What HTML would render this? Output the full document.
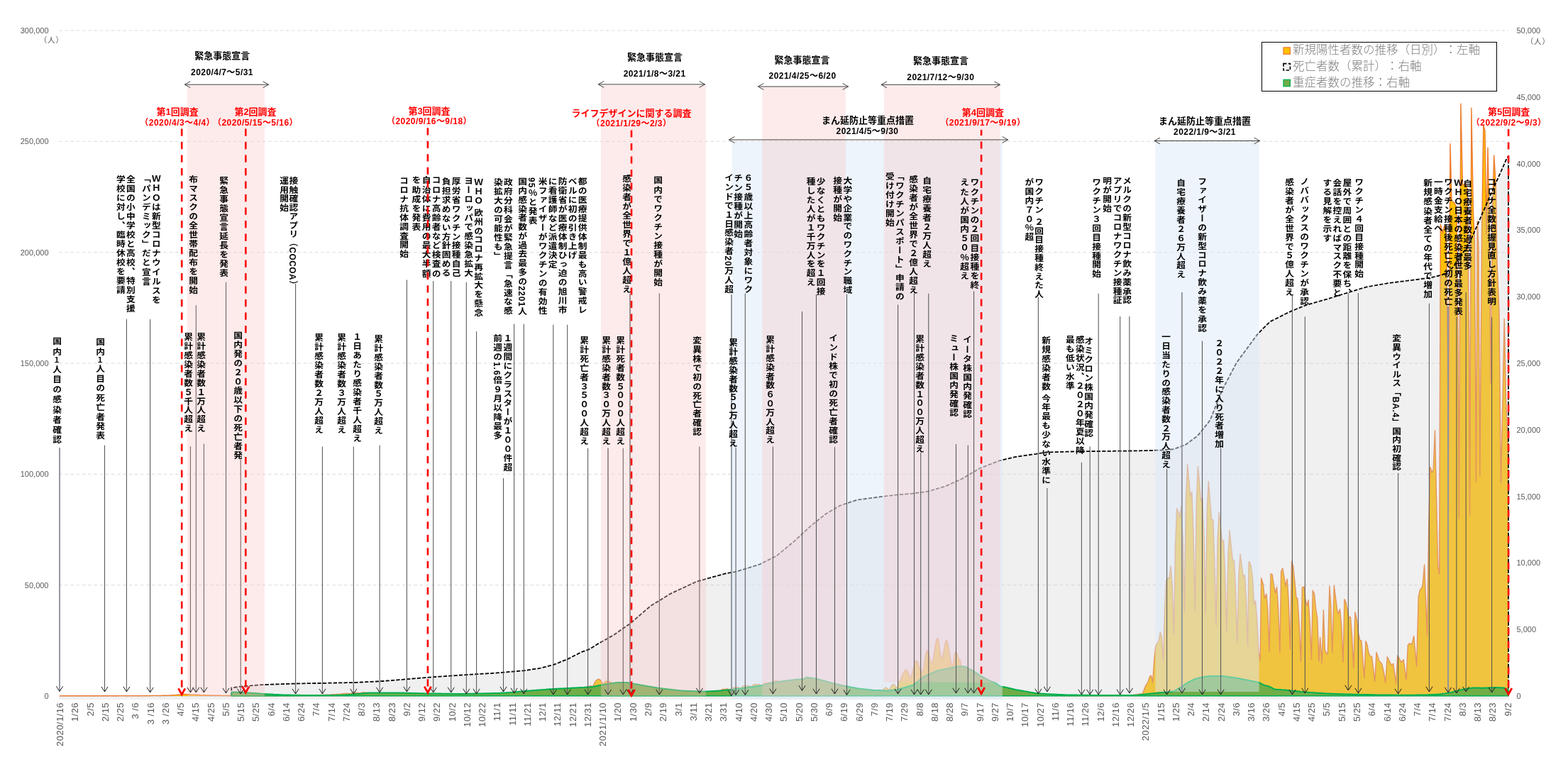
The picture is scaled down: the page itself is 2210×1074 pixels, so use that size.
<!DOCTYPE html><html lang="ja"><head><meta charset="utf-8"><title>新型コロナウイルス感染症の推移と調査時期</title>
<style>
html,body{margin:0;padding:0;background:#fff}
#c{position:relative;width:2210px;height:1074px;overflow:hidden;background:#fff;font-family:"Liberation Sans","Noto Sans CJK JP",sans-serif}
svg{position:absolute;left:0;top:0}
.v{position:absolute;transform:scaleX(1.07);writing-mode:vertical-rl;font-weight:bold;font-size:11.9px;white-space:pre;color:#000;font-family:"Liberation Sans","Noto Sans CJK JP",sans-serif}
.h{position:absolute;font-weight:bold;font-size:13px;line-height:16px;height:16px;white-space:nowrap;color:#000;text-align:center;width:300px;margin-left:-150px;font-family:"Liberation Sans","Noto Sans CJK JP",sans-serif}
.r{color:#f00}
.d{font-size:12px;letter-spacing:0.45px}
.ax{font:11px "Liberation Sans","Noto Sans CJK JP",sans-serif;fill:#595959}
.xl{font:13px "Liberation Sans","Noto Sans CJK JP",sans-serif;fill:#595959;letter-spacing:0.45px}
.un{font:10.5px "Liberation Sans","Noto Sans CJK JP",sans-serif;fill:#595959;letter-spacing:0.9px}
.lg{position:absolute;font:300 16.5px/20px "Liberation Sans","Noto Sans CJK JP",sans-serif;color:#7f7f7f;white-space:nowrap;text-spacing-trim:space-all}
</style></head><body><div id="c">
<svg width="2210" height="1074" viewBox="0 0 2210 1074">
<line x1="83" x2="2126" y1="824.7" y2="824.7" stroke="#d9d9d9" stroke-width="1" stroke-dasharray="4.6 3.6"/>
<line x1="83" x2="2126" y1="668.3" y2="668.3" stroke="#d9d9d9" stroke-width="1" stroke-dasharray="4.6 3.6"/>
<line x1="83" x2="2126" y1="512" y2="512" stroke="#d9d9d9" stroke-width="1" stroke-dasharray="4.6 3.6"/>
<line x1="83" x2="2126" y1="355.7" y2="355.7" stroke="#d9d9d9" stroke-width="1" stroke-dasharray="4.6 3.6"/>
<line x1="83" x2="2126" y1="199.3" y2="199.3" stroke="#d9d9d9" stroke-width="1" stroke-dasharray="4.6 3.6"/>
<line x1="83" x2="2126" y1="43" y2="43" stroke="#d9d9d9" stroke-width="1" stroke-dasharray="4.6 3.6"/>
<path d="M84 981.5V986M86.1 981.5V986M88.3 981.5V986M90.4 981.5V986M92.5 981.5V986M94.6 981.5V986M96.8 981.5V986M98.9 981.5V986M101 981.5V986M103.1 981.5V986M105.3 981.5V986M107.4 981.5V986M109.5 981.5V986M111.7 981.5V986M113.8 981.5V986M115.9 981.5V986M118 981.5V986M120.2 981.5V986M122.3 981.5V986M124.4 981.5V986M126.5 981.5V986M128.7 981.5V986M130.8 981.5V986M132.9 981.5V986M135.1 981.5V986M137.2 981.5V986M139.3 981.5V986M141.4 981.5V986M143.6 981.5V986M145.7 981.5V986M147.8 981.5V986M149.9 981.5V986M152.1 981.5V986M154.2 981.5V986M156.3 981.5V986M158.4 981.5V986M160.6 981.5V986M162.7 981.5V986M164.8 981.5V986M167 981.5V986M169.1 981.5V986M171.2 981.5V986M173.3 981.5V986M175.5 981.5V986M177.6 981.5V986M179.7 981.5V986M181.8 981.5V986M184 981.5V986M186.1 981.5V986M188.2 981.5V986M190.4 981.5V986M192.5 981.5V986M194.6 981.5V986M196.7 981.5V986M198.9 981.5V986M201 981.5V986M203.1 981.5V986M205.2 981.5V986M207.4 981.5V986M209.5 981.5V986M211.6 981.5V986M213.8 981.5V986M215.9 981.5V986M218 981.5V986M220.1 981.5V986M222.3 981.5V986M224.4 981.5V986M226.5 981.5V986M228.6 981.5V986M230.8 981.5V986M232.9 981.5V986M235 981.5V986M237.1 981.5V986M239.3 981.5V986M241.4 981.5V986M243.5 981.5V986M245.7 981.5V986M247.8 981.5V986M249.9 981.5V986M252 981.5V986M254.2 981.5V986M256.3 981.5V986M258.4 981.5V986M260.5 981.5V986M262.7 981.5V986M264.8 981.5V986M266.9 981.5V986M269.1 981.5V986M271.2 981.5V986M273.3 981.5V986M275.4 981.5V986M277.6 981.5V986M279.7 981.5V986M281.8 981.5V986M283.9 981.5V986M286.1 981.5V986M288.2 981.5V986M290.3 981.5V986M292.5 981.5V986M294.6 981.5V986M296.7 981.5V986M298.8 981.5V986M301 981.5V986M303.1 981.5V986M305.2 981.5V986M307.3 981.5V986M309.5 981.5V986M311.6 981.5V986M313.7 981.5V986M315.9 981.5V986M318 981.5V986M320.1 981.5V986M322.2 981.5V986M324.4 981.5V986M326.5 981.5V986M328.6 981.5V986M330.7 981.5V986M332.9 981.5V986M335 981.5V986M337.1 981.5V986M339.2 981.5V986M341.4 981.5V986M343.5 981.5V986M345.6 981.5V986M347.8 981.5V986M349.9 981.5V986M352 981.5V986M354.1 981.5V986M356.3 981.5V986M358.4 981.5V986M360.5 981.5V986M362.6 981.5V986M364.8 981.5V986M366.9 981.5V986M369 981.5V986M371.2 981.5V986M373.3 981.5V986M375.4 981.5V986M377.5 981.5V986M379.7 981.5V986M381.8 981.5V986M383.9 981.5V986M386 981.5V986M388.2 981.5V986M390.3 981.5V986M392.4 981.5V986M394.6 981.5V986M396.7 981.5V986M398.8 981.5V986M400.9 981.5V986M403.1 981.5V986M405.2 981.5V986M407.3 981.5V986M409.4 981.5V986M411.6 981.5V986M413.7 981.5V986M415.8 981.5V986M418 981.5V986M420.1 981.5V986M422.2 981.5V986M424.3 981.5V986M426.5 981.5V986M428.6 981.5V986M430.7 981.5V986M432.8 981.5V986M435 981.5V986M437.1 981.5V986M439.2 981.5V986M441.3 981.5V986M443.5 981.5V986M445.6 981.5V986M447.7 981.5V986M449.9 981.5V986M452 981.5V986M454.1 981.5V986M456.2 981.5V986M458.4 981.5V986M460.5 981.5V986M462.6 981.5V986M464.7 981.5V986M466.9 981.5V986M469 981.5V986M471.1 981.5V986M473.3 981.5V986M475.4 981.5V986M477.5 981.5V986M479.6 981.5V986M481.8 981.5V986M483.9 981.5V986M486 981.5V986M488.1 981.5V986M490.3 981.5V986M492.4 981.5V986M494.5 981.5V986M496.7 981.5V986M498.8 981.5V986M500.9 981.5V986M503 981.5V986M505.2 981.5V986M507.3 981.5V986M509.4 981.5V986M511.5 981.5V986M513.7 981.5V986M515.8 981.5V986M517.9 981.5V986M520.1 981.5V986M522.2 981.5V986M524.3 981.5V986M526.4 981.5V986M528.6 981.5V986M530.7 981.5V986M532.8 981.5V986M534.9 981.5V986M537.1 981.5V986M539.2 981.5V986M541.3 981.5V986M543.5 981.5V986M545.6 981.5V986M547.7 981.5V986M549.8 981.5V986M552 981.5V986M554.1 981.5V986M556.2 981.5V986M558.3 981.5V986M560.5 981.5V986M562.6 981.5V986M564.7 981.5V986M566.8 981.5V986M569 981.5V986M571.1 981.5V986M573.2 981.5V986M575.4 981.5V986M577.5 981.5V986M579.6 981.5V986M581.7 981.5V986M583.9 981.5V986M586 981.5V986M588.1 981.5V986M590.2 981.5V986M592.4 981.5V986M594.5 981.5V986M596.6 981.5V986M598.8 981.5V986M600.9 981.5V986M603 981.5V986M605.1 981.5V986M607.3 981.5V986M609.4 981.5V986M611.5 981.5V986M613.6 981.5V986M615.8 981.5V986M617.9 981.5V986M620 981.5V986M622.2 981.5V986M624.3 981.5V986M626.4 981.5V986M628.5 981.5V986M630.7 981.5V986M632.8 981.5V986M634.9 981.5V986M637 981.5V986M639.2 981.5V986M641.3 981.5V986M643.4 981.5V986M645.5 981.5V986M647.7 981.5V986M649.8 981.5V986M651.9 981.5V986M654.1 981.5V986M656.2 981.5V986M658.3 981.5V986M660.4 981.5V986M662.6 981.5V986M664.7 981.5V986M666.8 981.5V986M668.9 981.5V986M671.1 981.5V986M673.2 981.5V986M675.3 981.5V986M677.5 981.5V986M679.6 981.5V986M681.7 981.5V986M683.8 981.5V986M686 981.5V986M688.1 981.5V986M690.2 981.5V986M692.3 981.5V986M694.5 981.5V986M696.6 981.5V986M698.7 981.5V986M700.9 981.5V986M703 981.5V986M705.1 981.5V986M707.2 981.5V986M709.4 981.5V986M711.5 981.5V986M713.6 981.5V986M715.7 981.5V986M717.9 981.5V986M720 981.5V986M722.1 981.5V986M724.3 981.5V986M726.4 981.5V986M728.5 981.5V986M730.6 981.5V986M732.8 981.5V986M734.9 981.5V986M737 981.5V986M739.1 981.5V986M741.3 981.5V986M743.4 981.5V986M745.5 981.5V986M747.6 981.5V986M749.8 981.5V986M751.9 981.5V986M754 981.5V986M756.2 981.5V986M758.3 981.5V986M760.4 981.5V986M762.5 981.5V986M764.7 981.5V986M766.8 981.5V986M768.9 981.5V986M771 981.5V986M773.2 981.5V986M775.3 981.5V986M777.4 981.5V986M779.6 981.5V986M781.7 981.5V986M783.8 981.5V986M785.9 981.5V986M788.1 981.5V986M790.2 981.5V986M792.3 981.5V986M794.4 981.5V986M796.6 981.5V986M798.7 981.5V986M800.8 981.5V986M803 981.5V986M805.1 981.5V986M807.2 981.5V986M809.3 981.5V986M811.5 981.5V986M813.6 981.5V986M815.7 981.5V986M817.8 981.5V986M820 981.5V986M822.1 981.5V986M824.2 981.5V986M826.4 981.5V986M828.5 981.5V986M830.6 981.5V986M832.7 981.5V986M834.9 981.5V986M837 981.5V986M839.1 981.5V986M841.2 981.5V986M843.4 981.5V986M845.5 981.5V986M847.6 981.5V986M849.8 981.5V986M851.9 981.5V986M854 981.5V986M856.1 981.5V986M858.3 981.5V986M860.4 981.5V986M862.5 981.5V986M864.6 981.5V986M866.8 981.5V986M868.9 981.5V986M871 981.5V986M873.1 981.5V986M875.3 981.5V986M877.4 981.5V986M879.5 981.5V986M881.7 981.5V986M883.8 981.5V986M885.9 981.5V986M888 981.5V986M890.2 981.5V986M892.3 981.5V986M894.4 981.5V986M896.5 981.5V986M898.7 981.5V986M900.8 981.5V986M902.9 981.5V986M905.1 981.5V986M907.2 981.5V986M909.3 981.5V986M911.4 981.5V986M913.6 981.5V986M915.7 981.5V986M917.8 981.5V986M919.9 981.5V986M922.1 981.5V986M924.2 981.5V986M926.3 981.5V986M928.5 981.5V986M930.6 981.5V986M932.7 981.5V986M934.8 981.5V986M937 981.5V986M939.1 981.5V986M941.2 981.5V986M943.3 981.5V986M945.5 981.5V986M947.6 981.5V986M949.7 981.5V986M951.8 981.5V986M954 981.5V986M956.1 981.5V986M958.2 981.5V986M960.4 981.5V986M962.5 981.5V986M964.6 981.5V986M966.7 981.5V986M968.9 981.5V986M971 981.5V986M973.1 981.5V986M975.2 981.5V986M977.4 981.5V986M979.5 981.5V986M981.6 981.5V986M983.8 981.5V986M985.9 981.5V986M988 981.5V986M990.1 981.5V986M992.3 981.5V986M994.4 981.5V986M996.5 981.5V986M998.6 981.5V986M1000.8 981.5V986M1002.9 981.5V986M1005 981.5V986M1007.2 981.5V986M1009.3 981.5V986M1011.4 981.5V986M1013.5 981.5V986M1015.7 981.5V986M1017.8 981.5V986M1019.9 981.5V986M1022 981.5V986M1024.2 981.5V986M1026.3 981.5V986M1028.4 981.5V986M1030.6 981.5V986M1032.7 981.5V986M1034.8 981.5V986M1036.9 981.5V986M1039.1 981.5V986M1041.2 981.5V986M1043.3 981.5V986M1045.4 981.5V986M1047.6 981.5V986M1049.7 981.5V986M1051.8 981.5V986M1053.9 981.5V986M1056.1 981.5V986M1058.2 981.5V986M1060.3 981.5V986M1062.5 981.5V986M1064.6 981.5V986M1066.7 981.5V986M1068.8 981.5V986M1071 981.5V986M1073.1 981.5V986M1075.2 981.5V986M1077.3 981.5V986M1079.5 981.5V986M1081.6 981.5V986M1083.7 981.5V986M1085.9 981.5V986M1088 981.5V986M1090.1 981.5V986M1092.2 981.5V986M1094.4 981.5V986M1096.5 981.5V986M1098.6 981.5V986M1100.7 981.5V986M1102.9 981.5V986M1105 981.5V986M1107.1 981.5V986M1109.3 981.5V986M1111.4 981.5V986M1113.5 981.5V986M1115.6 981.5V986M1117.8 981.5V986M1119.9 981.5V986M1122 981.5V986M1124.1 981.5V986M1126.3 981.5V986M1128.4 981.5V986M1130.5 981.5V986M1132.7 981.5V986M1134.8 981.5V986M1136.9 981.5V986M1139 981.5V986M1141.2 981.5V986M1143.3 981.5V986M1145.4 981.5V986M1147.5 981.5V986M1149.7 981.5V986M1151.8 981.5V986M1153.9 981.5V986M1156 981.5V986M1158.2 981.5V986M1160.3 981.5V986M1162.4 981.5V986M1164.6 981.5V986M1166.7 981.5V986M1168.8 981.5V986M1170.9 981.5V986M1173.1 981.5V986M1175.2 981.5V986M1177.3 981.5V986M1179.4 981.5V986M1181.6 981.5V986M1183.7 981.5V986M1185.8 981.5V986M1188 981.5V986M1190.1 981.5V986M1192.2 981.5V986M1194.3 981.5V986M1196.5 981.5V986M1198.6 981.5V986M1200.7 981.5V986M1202.8 981.5V986M1205 981.5V986M1207.1 981.5V986M1209.2 981.5V986M1211.4 981.5V986M1213.5 981.5V986M1215.6 981.5V986M1217.7 981.5V986M1219.9 981.5V986M1222 981.5V986M1224.1 981.5V986M1226.2 981.5V986M1228.4 981.5V986M1230.5 981.5V986M1232.6 981.5V986M1234.8 981.5V986M1236.9 981.5V986M1239 981.5V986M1241.1 981.5V986M1243.3 981.5V986M1245.4 981.5V986M1247.5 981.5V986M1249.6 981.5V986M1251.8 981.5V986M1253.9 981.5V986M1256 981.5V986M1258.1 981.5V986M1260.3 981.5V986M1262.4 981.5V986M1264.5 981.5V986M1266.7 981.5V986M1268.8 981.5V986M1270.9 981.5V986M1273 981.5V986M1275.2 981.5V986M1277.3 981.5V986M1279.4 981.5V986M1281.5 981.5V986M1283.7 981.5V986M1285.8 981.5V986M1287.9 981.5V986M1290.1 981.5V986M1292.2 981.5V986M1294.3 981.5V986M1296.4 981.5V986M1298.6 981.5V986M1300.7 981.5V986M1302.8 981.5V986M1304.9 981.5V986M1307.1 981.5V986M1309.2 981.5V986M1311.3 981.5V986M1313.5 981.5V986M1315.6 981.5V986M1317.7 981.5V986M1319.8 981.5V986M1322 981.5V986M1324.1 981.5V986M1326.2 981.5V986M1328.3 981.5V986M1330.5 981.5V986M1332.6 981.5V986M1334.7 981.5V986M1336.9 981.5V986M1339 981.5V986M1341.1 981.5V986M1343.2 981.5V986M1345.4 981.5V986M1347.5 981.5V986M1349.6 981.5V986M1351.7 981.5V986M1353.9 981.5V986M1356 981.5V986M1358.1 981.5V986M1360.2 981.5V986M1362.4 981.5V986M1364.5 981.5V986M1366.6 981.5V986M1368.8 981.5V986M1370.9 981.5V986M1373 981.5V986M1375.1 981.5V986M1377.3 981.5V986M1379.4 981.5V986M1381.5 981.5V986M1383.6 981.5V986M1385.8 981.5V986M1387.9 981.5V986M1390 981.5V986M1392.2 981.5V986M1394.3 981.5V986M1396.4 981.5V986M1398.5 981.5V986M1400.7 981.5V986M1402.8 981.5V986M1404.9 981.5V986M1407 981.5V986M1409.2 981.5V986M1411.3 981.5V986M1413.4 981.5V986M1415.6 981.5V986M1417.7 981.5V986M1419.8 981.5V986M1421.9 981.5V986M1424.1 981.5V986M1426.2 981.5V986M1428.3 981.5V986M1430.4 981.5V986M1432.6 981.5V986M1434.7 981.5V986M1436.8 981.5V986M1439 981.5V986M1441.1 981.5V986M1443.2 981.5V986M1445.3 981.5V986M1447.5 981.5V986M1449.6 981.5V986M1451.7 981.5V986M1453.8 981.5V986M1456 981.5V986M1458.1 981.5V986M1460.2 981.5V986M1462.3 981.5V986M1464.5 981.5V986M1466.6 981.5V986M1468.7 981.5V986M1470.9 981.5V986M1473 981.5V986M1475.1 981.5V986M1477.2 981.5V986M1479.4 981.5V986M1481.5 981.5V986M1483.6 981.5V986M1485.7 981.5V986M1487.9 981.5V986M1490 981.5V986M1492.1 981.5V986M1494.3 981.5V986M1496.4 981.5V986M1498.5 981.5V986M1500.6 981.5V986M1502.8 981.5V986M1504.9 981.5V986M1507 981.5V986M1509.1 981.5V986M1511.3 981.5V986M1513.4 981.5V986M1515.5 981.5V986M1517.7 981.5V986M1519.8 981.5V986M1521.9 981.5V986M1524 981.5V986M1526.2 981.5V986M1528.3 981.5V986M1530.4 981.5V986M1532.5 981.5V986M1534.7 981.5V986M1536.8 981.5V986M1538.9 981.5V986M1541.1 981.5V986M1543.2 981.5V986M1545.3 981.5V986M1547.4 981.5V986M1549.6 981.5V986M1551.7 981.5V986M1553.8 981.5V986M1555.9 981.5V986M1558.1 981.5V986M1560.2 981.5V986M1562.3 981.5V986M1564.4 981.5V986M1566.6 981.5V986M1568.7 981.5V986M1570.8 981.5V986M1573 981.5V986M1575.1 981.5V986M1577.2 981.5V986M1579.3 981.5V986M1581.5 981.5V986M1583.6 981.5V986M1585.7 981.5V986M1587.8 981.5V986M1590 981.5V986M1592.1 981.5V986M1594.2 981.5V986M1596.4 981.5V986M1598.5 981.5V986M1600.6 981.5V986M1602.7 981.5V986M1604.9 981.5V986M1607 981.5V986M1609.1 981.5V986M1611.2 981.5V986M1613.4 981.5V986M1615.5 981.5V986M1617.6 981.5V986M1619.8 981.5V986M1621.9 981.5V986M1624 981.5V986M1626.1 981.5V986M1628.3 981.5V986M1630.4 981.5V986M1632.5 981.5V986M1634.6 981.5V986M1636.8 981.5V986M1638.9 981.5V986M1641 981.5V986M1643.2 981.5V986M1645.3 981.5V986M1647.4 981.5V986M1649.5 981.5V986M1651.7 981.5V986M1653.8 981.5V986M1655.9 981.5V986M1658 981.5V986M1660.2 981.5V986M1662.3 981.5V986M1664.4 981.5V986M1666.5 981.5V986M1668.7 981.5V986M1670.8 981.5V986M1672.9 981.5V986M1675.1 981.5V986M1677.2 981.5V986M1679.3 981.5V986M1681.4 981.5V986M1683.6 981.5V986M1685.7 981.5V986M1687.8 981.5V986M1689.9 981.5V986M1692.1 981.5V986M1694.2 981.5V986M1696.3 981.5V986M1698.5 981.5V986M1700.6 981.5V986M1702.7 981.5V986M1704.8 981.5V986M1707 981.5V986M1709.1 981.5V986M1711.2 981.5V986M1713.3 981.5V986M1715.5 981.5V986M1717.6 981.5V986M1719.7 981.5V986M1721.9 981.5V986M1724 981.5V986M1726.1 981.5V986M1728.2 981.5V986M1730.4 981.5V986M1732.5 981.5V986M1734.6 981.5V986M1736.7 981.5V986M1738.9 981.5V986M1741 981.5V986M1743.1 981.5V986M1745.3 981.5V986M1747.4 981.5V986M1749.5 981.5V986M1751.6 981.5V986M1753.8 981.5V986M1755.9 981.5V986M1758 981.5V986M1760.1 981.5V986M1762.3 981.5V986M1764.4 981.5V986M1766.5 981.5V986M1768.6 981.5V986M1770.8 981.5V986M1772.9 981.5V986M1775 981.5V986M1777.2 981.5V986M1779.3 981.5V986M1781.4 981.5V986M1783.5 981.5V986M1785.7 981.5V986M1787.8 981.5V986M1789.9 981.5V986M1792 981.5V986M1794.2 981.5V986M1796.3 981.5V986M1798.4 981.5V986M1800.6 981.5V986M1802.7 981.5V986M1804.8 981.5V986M1806.9 981.5V986M1809.1 981.5V986M1811.2 981.5V986M1813.3 981.5V986M1815.4 981.5V986M1817.6 981.5V986M1819.7 981.5V986M1821.8 981.5V986M1824 981.5V986M1826.1 981.5V986M1828.2 981.5V986M1830.3 981.5V986M1832.5 981.5V986M1834.6 981.5V986M1836.7 981.5V986M1838.8 981.5V986M1841 981.5V986M1843.1 981.5V986M1845.2 981.5V986M1847.4 981.5V986M1849.5 981.5V986M1851.6 981.5V986M1853.7 981.5V986M1855.9 981.5V986M1858 981.5V986M1860.1 981.5V986M1862.2 981.5V986M1864.4 981.5V986M1866.5 981.5V986M1868.6 981.5V986M1870.8 981.5V986M1872.9 981.5V986M1875 981.5V986M1877.1 981.5V986M1879.3 981.5V986M1881.4 981.5V986M1883.5 981.5V986M1885.6 981.5V986M1887.8 981.5V986M1889.9 981.5V986M1892 981.5V986M1894.1 981.5V986M1896.3 981.5V986M1898.4 981.5V986M1900.5 981.5V986M1902.7 981.5V986M1904.8 981.5V986M1906.9 981.5V986M1909 981.5V986M1911.2 981.5V986M1913.3 981.5V986M1915.4 981.5V986M1917.5 981.5V986M1919.7 981.5V986M1921.8 981.5V986M1923.9 981.5V986M1926.1 981.5V986M1928.2 981.5V986M1930.3 981.5V986M1932.4 981.5V986M1934.6 981.5V986M1936.7 981.5V986M1938.8 981.5V986M1940.9 981.5V986M1943.1 981.5V986M1945.2 981.5V986M1947.3 981.5V986M1949.5 981.5V986M1951.6 981.5V986M1953.7 981.5V986M1955.8 981.5V986M1958 981.5V986M1960.1 981.5V986M1962.2 981.5V986M1964.3 981.5V986M1966.5 981.5V986M1968.6 981.5V986M1970.7 981.5V986M1972.8 981.5V986M1975 981.5V986M1977.1 981.5V986M1979.2 981.5V986M1981.4 981.5V986M1983.5 981.5V986M1985.6 981.5V986M1987.7 981.5V986M1989.9 981.5V986M1992 981.5V986M1994.1 981.5V986M1996.2 981.5V986M1998.4 981.5V986M2000.5 981.5V986M2002.6 981.5V986M2004.8 981.5V986M2006.9 981.5V986M2009 981.5V986M2011.1 981.5V986M2013.3 981.5V986M2015.4 981.5V986M2017.5 981.5V986M2019.6 981.5V986M2021.8 981.5V986M2023.9 981.5V986M2026 981.5V986M2028.2 981.5V986M2030.3 981.5V986M2032.4 981.5V986M2034.5 981.5V986M2036.7 981.5V986M2038.8 981.5V986M2040.9 981.5V986M2043 981.5V986M2045.2 981.5V986M2047.3 981.5V986M2049.4 981.5V986M2051.6 981.5V986M2053.7 981.5V986M2055.8 981.5V986M2057.9 981.5V986M2060.1 981.5V986M2062.2 981.5V986M2064.3 981.5V986M2066.4 981.5V986M2068.6 981.5V986M2070.7 981.5V986M2072.8 981.5V986M2074.9 981.5V986M2077.1 981.5V986M2079.2 981.5V986M2081.3 981.5V986M2083.5 981.5V986M2085.6 981.5V986M2087.7 981.5V986M2089.8 981.5V986M2092 981.5V986M2094.1 981.5V986M2096.2 981.5V986M2098.3 981.5V986M2100.5 981.5V986M2102.6 981.5V986M2104.7 981.5V986M2106.9 981.5V986M2109 981.5V986M2111.1 981.5V986M2113.2 981.5V986M2115.4 981.5V986M2117.5 981.5V986M2119.6 981.5V986M2121.7 981.5V986M2123.9 981.5V986M2126 981.5V986" stroke="#dedede" stroke-width="0.9" fill="none"/>
<line x1="84" x2="2126" y1="981.5" y2="981.5" stroke="#d9d9d9" stroke-width="1"/>
<path d="M84 981 L84 980.7 L84.6 980.7 L86.8 980.7 L88.9 980.7 L91 980.8 L93.1 980.7 L95.3 980.7 L97.4 980.7 L99.5 980.7 L101.6 980.7 L103.8 980.7 L105.9 980.8 L108 980.7 L110.2 980.7 L112.3 980.7 L114.4 980.7 L116.5 980.7 L118.7 980.7 L120.8 980.7 L122.9 980.7 L125 980.7 L127.2 980.7 L129.3 980.7 L131.4 980.7 L133.6 980.7 L135.7 980.7 L137.8 980.7 L139.9 980.7 L142.1 980.7 L144.2 980.7 L146.3 980.7 L148.4 980.7 L150.6 980.7 L152.7 980.7 L154.8 980.6 L156.9 980.6 L159.1 980.7 L161.2 980.6 L163.3 980.7 L165.5 980.7 L167.6 980.6 L169.7 980.6 L171.8 980.6 L174 980.6 L176.1 980.6 L178.2 980.7 L180.3 980.7 L182.5 980.6 L184.6 980.6 L186.7 980.6 L188.9 980.6 L191 980.6 L193.1 980.6 L195.2 980.7 L197.4 980.6 L199.5 980.6 L201.6 980.6 L203.7 980.6 L205.9 980.5 L208 980.6 L210.1 980.6 L212.3 980.5 L214.4 980.4 L216.5 980.4 L218.6 980.4 L220.8 980.4 L222.9 980.4 L225 980.5 L227.1 980.4 L229.3 980.3 L231.4 980.3 L233.5 980.3 L235.6 980.3 L237.8 980.3 L239.9 980.3 L242 980 L244.2 979.7 L246.3 979.6 L248.4 979.5 L250.5 979.3 L252.7 979.3 L254.8 979.4 L256.9 978.8 L259 978.5 L261.2 978.5 L263.3 978.7 L265.4 978.8 L267.6 979 L269.7 979.4 L271.8 979.1 L273.9 979.1 L276.1 979.3 L278.2 979.5 L280.3 979.5 L282.4 979.7 L284.6 979.9 L286.7 979.8 L288.8 979.8 L291 979.9 L293.1 980 L295.2 980 L297.3 980.2 L299.5 980.3 L301.6 980.2 L303.7 980.2 L305.8 980.2 L308 980.3 L310.1 980.3 L312.2 980.4 L314.4 980.5 L316.5 980.4 L318.6 980.4 L320.7 980.5 L322.9 980.5 L325 980.6 L327.1 980.6 L329.2 980.7 L331.4 980.6 L333.5 980.6 L335.6 980.6 L337.8 980.6 L339.9 980.6 L342 980.6 L344.1 980.7 L346.3 980.6 L348.4 980.6 L350.5 980.6 L352.6 980.6 L354.8 980.6 L356.9 980.6 L359 980.7 L361.1 980.6 L363.3 980.6 L365.4 980.6 L367.5 980.6 L369.7 980.6 L371.8 980.6 L373.9 980.7 L376 980.6 L378.2 980.6 L380.3 980.6 L382.4 980.6 L384.5 980.6 L386.7 980.6 L388.8 980.7 L390.9 980.6 L393.1 980.6 L395.2 980.6 L397.3 980.6 L399.4 980.6 L401.6 980.6 L403.7 980.7 L405.8 980.6 L407.9 980.5 L410.1 980.5 L412.2 980.5 L414.3 980.5 L416.5 980.5 L418.6 980.6 L420.7 980.5 L422.8 980.4 L425 980.4 L427.1 980.4 L429.2 980.4 L431.3 980.4 L433.5 980.4 L435.6 980.2 L437.7 980 L439.8 980 L442 979.9 L444.1 979.8 L446.2 979.8 L448.4 979.9 L450.5 979.6 L452.6 979.4 L454.7 979.4 L456.9 979.4 L459 979.3 L461.1 979.3 L463.2 979.5 L465.4 979.1 L467.5 978.8 L469.6 978.8 L471.8 978.7 L473.9 978.5 L476 978.5 L478.1 978.7 L480.3 978 L482.4 977.7 L484.5 977.6 L486.6 977.5 L488.8 977.4 L490.9 977.5 L493 977.8 L495.2 976.9 L497.3 976.5 L499.4 976.5 L501.5 976.5 L503.7 976.4 L505.8 976.7 L507.9 977.2 L510 976.2 L512.2 975.9 L514.3 976 L516.4 976.3 L518.6 976.4 L520.7 976.9 L522.8 977.6 L524.9 976.9 L527.1 976.8 L529.2 977 L531.3 977.3 L533.4 977.4 L535.6 977.8 L537.7 978.4 L539.8 977.9 L542 977.8 L544.1 978 L546.2 978.1 L548.3 978.2 L550.5 978.5 L552.6 978.9 L554.7 978.6 L556.8 978.5 L559 978.7 L561.1 978.8 L563.2 978.8 L565.3 978.9 L567.5 979.3 L569.6 978.9 L571.7 978.8 L573.9 978.9 L576 978.9 L578.1 978.9 L580.2 979.1 L582.4 979.4 L584.5 979.1 L586.6 979 L588.7 979 L590.9 979.1 L593 979.1 L595.1 979.3 L597.3 979.5 L599.4 979.2 L601.5 979.1 L603.6 979.1 L605.8 979.2 L607.9 979.2 L610 979.3 L612.1 979.5 L614.3 979.2 L616.4 979 L618.5 979.1 L620.7 979.1 L622.8 979.1 L624.9 979.2 L627 979.5 L629.2 979.1 L631.3 979 L633.4 979 L635.5 979.1 L637.7 979 L639.8 979.2 L641.9 979.4 L644 979.1 L646.2 978.9 L648.3 979 L650.4 979 L652.6 979 L654.7 979.1 L656.8 979.4 L658.9 979 L661.1 978.9 L663.2 978.9 L665.3 979 L667.4 978.9 L669.6 979.1 L671.7 979.3 L673.8 979 L676 978.8 L678.1 978.9 L680.2 978.8 L682.3 978.7 L684.5 978.7 L686.6 979 L688.7 978.4 L690.8 978.1 L693 978 L695.1 978 L697.2 977.9 L699.4 978 L701.5 978.3 L703.6 977.6 L705.7 977.2 L707.9 977.2 L710 977.2 L712.1 977.1 L714.2 977.2 L716.4 977.7 L718.5 976.8 L720.6 976.2 L722.8 976.1 L724.9 976 L727 975.7 L729.1 975.9 L731.3 976.4 L733.4 975.1 L735.5 974.5 L737.6 974.4 L739.8 974.3 L741.9 974 L744 974.3 L746.1 975.3 L748.3 973.9 L750.4 973.4 L752.5 973.5 L754.7 973.7 L756.8 973.6 L758.9 974.1 L761 975 L763.2 973.6 L765.3 973.1 L767.4 973.2 L769.5 973.4 L771.7 973.2 L773.8 973.6 L775.9 974.5 L778.1 972.9 L780.2 972.2 L782.3 972.3 L784.4 972.4 L786.6 972.2 L788.7 972.7 L790.8 973.8 L792.9 972 L795.1 971.2 L797.2 971.4 L799.3 971.5 L801.5 971.2 L803.6 971.7 L805.7 972.8 L807.8 970.7 L810 969.9 L812.1 969.9 L814.2 970 L816.3 969.8 L818.5 970.4 L820.6 971.7 L822.7 969.3 L824.9 968.4 L827 968.5 L829.1 968.3 L831.2 967 L833.4 966.8 L835.5 967.8 L837.6 963 L839.7 959.5 L841.9 957.9 L844 957.2 L846.1 958.3 L848.2 961.1 L850.4 965 L852.5 961.3 L854.6 960 L856.8 960.6 L858.9 961.1 L861 961.6 L863.1 963.8 L865.3 967 L867.4 964.6 L869.5 964.4 L871.6 965.7 L873.8 966.9 L875.9 967.6 L878 969.3 L880.2 971.4 L882.3 969.7 L884.4 969.5 L886.5 970.3 L888.7 971.1 L890.8 971.5 L892.9 972.7 L895 974.3 L897.2 973.2 L899.3 973.1 L901.4 973.5 L903.6 973.9 L905.7 974.1 L907.8 974.8 L909.9 975.8 L912.1 974.8 L914.2 974.7 L916.3 975.1 L918.4 975.4 L920.6 975.6 L922.7 976.2 L924.8 977.1 L927 976.3 L929.1 976.2 L931.2 976.4 L933.3 976.6 L935.5 976.6 L937.6 977 L939.7 977.6 L941.8 976.9 L944 976.7 L946.1 976.9 L948.2 977.1 L950.3 977.1 L952.5 977.5 L954.6 978 L956.7 977.4 L958.9 977.2 L961 977.2 L963.1 977.2 L965.2 977.1 L967.4 977.3 L969.5 977.8 L971.6 976.9 L973.7 976.6 L975.9 976.6 L978 976.7 L980.1 976.5 L982.3 976.8 L984.4 977.3 L986.5 976.4 L988.6 976 L990.8 975.8 L992.9 975.6 L995 975.3 L997.1 975.4 L999.3 976 L1001.4 974.5 L1003.5 973.7 L1005.7 973.6 L1007.8 973.5 L1009.9 973.2 L1012 973.4 L1014.2 974.3 L1016.3 972.4 L1018.4 971.5 L1020.5 971.5 L1022.7 971.4 L1024.8 971 L1026.9 971.5 L1029.1 972.6 L1031.2 970.2 L1033.3 969.2 L1035.4 969.2 L1037.6 969.2 L1039.7 968.7 L1041.8 969.3 L1043.9 970.7 L1046.1 967.9 L1048.2 966.7 L1050.3 966.8 L1052.4 966.8 L1054.6 966.4 L1056.7 967.1 L1058.8 968.8 L1061 965.7 L1063.1 964.4 L1065.2 964.6 L1067.3 964.8 L1069.5 964.4 L1071.6 965.4 L1073.7 967.4 L1075.8 963.9 L1078 962.6 L1080.1 962.6 L1082.2 962.5 L1084.4 961.9 L1086.5 962.7 L1088.6 964.9 L1090.7 960.6 L1092.9 958.7 L1095 959.3 L1097.1 960.3 L1099.2 960.4 L1101.4 962.2 L1103.5 965.2 L1105.6 961.8 L1107.8 960.9 L1109.9 961.9 L1112 963.1 L1114.1 963.5 L1116.3 965.3 L1118.4 968 L1120.5 965.6 L1122.6 965.2 L1124.8 966.3 L1126.9 967.3 L1129 967.8 L1131.2 969.2 L1133.3 971.3 L1135.4 969.5 L1137.5 969.3 L1139.7 970.1 L1141.8 970.9 L1143.9 971.3 L1146 972.5 L1148.2 974.1 L1150.3 972.8 L1152.4 972.6 L1154.5 973.1 L1156.7 973.6 L1158.8 973.9 L1160.9 974.7 L1163.1 975.8 L1165.2 974.9 L1167.3 974.8 L1169.4 975.2 L1171.6 975.4 L1173.7 975.4 L1175.8 975.9 L1177.9 976.6 L1180.1 975.7 L1182.2 975.4 L1184.3 975.6 L1186.5 975.8 L1188.6 975.8 L1190.7 976.2 L1192.8 976.9 L1195 976 L1197.1 975.8 L1199.2 975.9 L1201.3 976 L1203.5 975.8 L1205.6 976.1 L1207.7 976.8 L1209.9 975.7 L1212 975.3 L1214.1 975.3 L1216.2 975.4 L1218.4 975.3 L1220.5 975.4 L1222.6 976 L1224.7 974.6 L1226.9 973.9 L1229 973.8 L1231.1 973.7 L1233.3 973.4 L1235.4 973.5 L1237.5 974.2 L1239.6 972 L1240 973.5 L1240.8 973.4 L1241.6 973.2 L1242.4 972.8 L1243.2 972.6 L1244 972.5 L1244.7 972.3 L1245.5 971.6 L1246.2 970.8 L1246.9 969.9 L1247.7 969.2 L1248.4 969 L1249.2 969.3 L1250 970 L1250.9 971 L1251.7 971.7 L1252.5 972 L1253.2 971.8 L1254 971.1 L1254.7 970.1 L1255.5 968.8 L1256.2 967.4 L1257 966.2 L1257.7 965.1 L1258.5 964.4 L1259.2 964.2 L1260 964.5 L1260.8 965.4 L1261.6 966.6 L1262.4 967.8 L1263.2 968.7 L1264 969 L1264.8 968.1 L1265.6 965.9 L1266.4 963.1 L1267.2 960.9 L1268 960 L1268.8 959.5 L1269.5 958.2 L1270.2 956.3 L1271 954 L1271.8 951.7 L1272.5 949.8 L1273.2 948.5 L1274 948 L1274.9 946.9 L1275.7 944.6 L1276.6 943.5 L1277.4 944.1 L1278.2 945.4 L1279 946 L1279.7 946.8 L1280.5 949 L1281.2 951.8 L1282 954 L1282.7 954.8 L1283.4 954.4 L1284.2 953.2 L1284.9 951.3 L1285.6 948.9 L1286.3 946.1 L1287.1 943 L1287.8 939.9 L1288.5 937.1 L1289.2 934.7 L1290 932.8 L1290.7 931.6 L1291.4 931.2 L1292.1 931.5 L1292.9 932.5 L1293.6 934 L1294.4 936 L1295.1 938.2 L1295.9 940.6 L1296.6 942.8 L1297.4 944.8 L1298.1 946.3 L1298.9 947.3 L1299.6 947.6 L1300.3 946.8 L1301 944.7 L1301.8 941.3 L1302.5 937 L1303.2 932.2 L1303.9 927.5 L1304.6 923.2 L1305.4 919.8 L1306.1 917.7 L1306.8 916.9 L1307.6 917.6 L1308.3 919.4 L1309.1 922.3 L1309.9 925.6 L1310.7 928.9 L1311.5 931.8 L1312.2 933.6 L1313 934.3 L1313.7 933.7 L1314.4 932 L1315.1 929.2 L1315.8 925.6 L1316.5 921.4 L1317.2 916.9 L1317.9 912.4 L1318.6 908.2 L1319.3 904.6 L1320 901.8 L1320.7 900.1 L1321.4 899.5 L1322.1 900.6 L1322.9 903.7 L1323.6 908.3 L1324.3 913.8 L1325.1 919.3 L1325.8 923.9 L1326.6 927 L1327.3 928.1 L1328 927.3 L1328.8 925.1 L1329.5 921.7 L1330.2 917.5 L1331 913.1 L1331.7 908.9 L1332.4 905.5 L1333.2 903.3 L1333.9 902.5 L1334.6 903.1 L1335.4 904.9 L1336.1 907.8 L1336.8 911.6 L1337.5 916 L1338.2 920.7 L1339 925.4 L1339.7 929.8 L1340.4 933.6 L1341.1 936.5 L1341.9 938.3 L1342.6 938.9 L1343.4 936.9 L1344.2 931.8 L1345.1 925.5 L1345.9 920.4 L1346.7 918.4 L1347.5 918.8 L1348.2 920.1 L1349 922 L1349.8 924.2 L1350.6 926.4 L1351.4 928.3 L1352.1 929.6 L1352.9 930 L1353.7 931.8 L1354.5 936 L1355.2 940.2 L1356 942 L1356.8 942.4 L1357.5 943.5 L1358.2 945.1 L1359 947 L1359.8 948.9 L1360.5 950.5 L1361.2 951.6 L1362 952 L1362.8 952.2 L1363.5 952.9 L1364.2 953.9 L1365 955 L1365.8 956.1 L1366.5 957.1 L1367.2 957.8 L1368 958 L1368.7 958.1 L1369.4 958.5 L1370.1 959 L1370.8 959.7 L1371.5 960.5 L1372.2 961.3 L1372.9 962 L1373.6 962.5 L1374.3 962.9 L1375 963 L1375.7 963.1 L1376.4 963.2 L1377.1 963.5 L1377.9 963.9 L1378.6 964.4 L1379.3 964.9 L1380 965.5 L1380.7 966.1 L1381.4 966.6 L1382.1 967.1 L1382.9 967.5 L1383.6 967.8 L1384.3 967.9 L1385 968 L1385.7 968.1 L1386.4 968.2 L1387.1 968.4 L1387.9 968.8 L1388.6 969.1 L1389.3 969.6 L1390 970 L1390.7 970.4 L1391.4 970.9 L1392.1 971.2 L1392.9 971.6 L1393.6 971.8 L1394.3 971.9 L1395 972 L1397 973.3 L1399.2 974.4 L1401.3 975.7 L1403.4 975 L1405.5 975.2 L1407.7 975.9 L1409.8 976.4 L1411.9 976.7 L1414.1 977.2 L1416.2 978 L1418.3 977.5 L1420.4 977.6 L1422.6 978 L1424.7 978.3 L1426.8 978.5 L1428.9 978.8 L1431.1 979.3 L1433.2 979.1 L1435.3 979.2 L1437.5 979.4 L1439.6 979.6 L1441.7 979.6 L1443.8 979.7 L1446 980 L1448.1 979.7 L1450.2 979.7 L1452.3 979.8 L1454.5 979.8 L1456.6 979.9 L1458.7 980 L1460.8 980.1 L1463 980 L1465.1 979.9 L1467.2 980 L1469.4 980.1 L1471.5 980.1 L1473.6 980.2 L1475.7 980.3 L1477.9 980.2 L1480 980.2 L1482.1 980.2 L1484.2 980.3 L1486.4 980.3 L1488.5 980.4 L1490.6 980.5 L1492.8 980.4 L1494.9 980.4 L1497 980.5 L1499.1 980.5 L1501.3 980.5 L1503.4 980.6 L1505.5 980.6 L1507.6 980.5 L1509.8 980.5 L1511.9 980.5 L1514 980.5 L1516.2 980.5 L1518.3 980.5 L1520.4 980.6 L1522.5 980.5 L1524.7 980.5 L1526.8 980.5 L1528.9 980.5 L1531 980.5 L1533.2 980.5 L1535.3 980.6 L1537.4 980.5 L1539.6 980.5 L1541.7 980.5 L1543.8 980.5 L1545.9 980.5 L1548.1 980.5 L1550.2 980.6 L1552.3 980.5 L1554.4 980.4 L1556.6 980.5 L1558.7 980.5 L1560.8 980.5 L1562.9 980.5 L1565.1 980.6 L1567.2 980.5 L1569.3 980.4 L1571.5 980.4 L1573.6 980.4 L1575.7 980.4 L1577.8 980.5 L1580 980.6 L1582.1 980.4 L1584.2 980.4 L1586.3 980.4 L1588.5 980.4 L1590.6 980.2 L1592.7 980.1 L1594.9 980.1 L1597 979.7 L1599.1 979.3 L1601.2 979 L1603.4 978.7 L1605.5 978.1 L1607.6 977.8 L1609.7 978.6 L1611.9 973.9 L1614 968.1 L1616.1 964 L1618.3 960.5 L1620.4 953.6 L1622.5 952.2 L1624.6 962.1 L1626.8 929.6 L1628.9 910.3 L1631 906.5 L1633.1 903.9 L1635.3 890.6 L1637.4 898.5 L1639.5 931.8 L1641.7 856.6 L1643.8 817.8 L1645.9 815.2 L1648 814.7 L1650.2 797.9 L1652.3 825.5 L1654.4 893.6 L1656.5 770.6 L1658.7 716.4 L1660.8 721.8 L1662.9 729.2 L1665 713.2 L1667.2 761.8 L1669.3 861.8 L1671.4 706.3 L1673.6 654 L1675.7 676.9 L1677.8 699.8 L1679.9 693.2 L1682.1 752.1 L1684.2 860 L1686.3 707.2 L1688.4 657.2 L1690.6 681.8 L1692.7 706.1 L1694.8 701.5 L1697 760.2 L1699.1 865 L1701.2 720.8 L1703.3 678.2 L1705.5 705.7 L1707.6 732.4 L1709.7 732.6 L1711.8 788.2 L1714 881.6 L1716.1 761 L1718.2 722.3 L1720.4 743.3 L1722.5 763.9 L1724.6 761.6 L1726.7 808.7 L1728.9 891.1 L1731 780.3 L1733.1 747.5 L1735.2 769 L1737.4 789.7 L1739.5 790.1 L1741.6 833 L1743.8 904.8 L1745.9 811.1 L1748 780.8 L1750.1 796.8 L1752.3 812.5 L1754.4 810.5 L1756.5 846.9 L1758.6 910.9 L1760 792.1 L1761.1 791.7 L1763.2 798.5 L1765.4 813.5 L1767.5 852.1 L1769.6 846.7 L1771.8 873.5 L1773.9 918.4 L1776.1 931.3 L1777.6 814.6 L1780.3 823.2 L1782.5 843.5 L1785 837.1 L1786.8 858.5 L1788.9 918.4 L1791 808.8 L1793.2 809.7 L1795.3 824.2 L1797.5 836 L1799.6 827.4 L1801.7 858.5 L1803.9 919.5 L1805.6 806 L1807.7 800.7 L1810.3 815.7 L1812 826.4 L1814.2 816.1 L1816.3 849.9 L1818.4 915.2 L1820.6 791 L1822.7 798.5 L1825.3 824.2 L1827 842.4 L1828.9 843.9 L1831.1 879.9 L1833.4 932.3 L1835.4 828.1 L1838.1 827 L1839.9 844.6 L1842 854.2 L1844.1 845.6 L1846.3 879.9 L1848.4 929.1 L1850.3 832.1 L1852.5 837.1 L1854.6 858.5 L1856.8 871.3 L1858.9 932.3 L1860.6 898.1 L1863.2 934.5 L1865.3 859.6 L1867.5 916.3 L1869.6 920.6 L1871.3 922.1 L1873.9 826.4 L1875.6 849.9 L1877.8 919.5 L1880.3 825.3 L1882.5 842.4 L1884.8 860.6 L1886.7 864.9 L1888.5 858.5 L1890.6 879.9 L1893 933.4 L1894.9 844.6 L1897 848.8 L1899.2 860.6 L1901.3 870.9 L1903.4 869.6 L1905.6 897 L1907.7 941.6 L1909.9 862.8 L1912.4 873.5 L1914.6 892.7 L1916.7 902.4 L1918.9 903 L1921 931.3 L1922.9 955.3 L1924.9 903.4 L1927 908.8 L1929.1 920.6 L1931.3 924.9 L1933.4 925.3 L1935.6 942 L1937.7 960.6 L1940 919.3 L1943.8 931.5 L1947.6 935.4 L1950.5 948 L1952.6 962.1 L1955.3 925.8 L1961 937.3 L1963.7 935.4 L1967.5 963.3 L1969.8 923.9 L1975.2 933.5 L1978.2 929.6 L1982 958.3 L1984.3 909.4 L1986.6 906.7 L1989.7 908.6 L1992.7 896.4 L1996.6 939.2 L1999.2 841.7 L2001.1 832.2 L2005 826.5 L2007.6 795.9 L2011.5 895.2 L2013.7 740.5 L2015.7 658.3 L2018.3 666 L2020.2 662 L2022.5 606.7 L2026.7 797.8 L2028.6 809.3 L2030.3 316 L2033 328 L2036 318 L2038.5 330 L2040.4 500 L2041.3 734.8 L2042.3 480 L2044 202.6 L2046 283 L2050 286 L2053 292 L2055 480 L2056.3 731 L2057.4 450 L2058.9 146.1 L2061.5 262 L2065 258 L2068 266 L2070.6 480 L2071.6 726 L2072.6 450 L2073.9 152.2 L2076.5 300 L2078.5 340 L2080.4 679 L2082.3 311.7 L2084 350 L2085.8 671 L2088.5 330 L2090.8 176 L2093 184.5 L2095 330 L2097 208.1 L2099 300 L2101.1 540 L2103.5 300 L2105.7 219.2 L2108.4 262 L2110 370 L2113 440 L2115.4 680.5 L2118 560 L2120.2 449.5 L2122.5 560 L2125.7 640 L2125.7 981 Z" fill="#ffc000"/>
<path d="M84 980.7 L84.6 980.7 L86.8 980.7 L88.9 980.7 L91 980.8 L93.1 980.7 L95.3 980.7 L97.4 980.7 L99.5 980.7 L101.6 980.7 L103.8 980.7 L105.9 980.8 L108 980.7 L110.2 980.7 L112.3 980.7 L114.4 980.7 L116.5 980.7 L118.7 980.7 L120.8 980.7 L122.9 980.7 L125 980.7 L127.2 980.7 L129.3 980.7 L131.4 980.7 L133.6 980.7 L135.7 980.7 L137.8 980.7 L139.9 980.7 L142.1 980.7 L144.2 980.7 L146.3 980.7 L148.4 980.7 L150.6 980.7 L152.7 980.7 L154.8 980.6 L156.9 980.6 L159.1 980.7 L161.2 980.6 L163.3 980.7 L165.5 980.7 L167.6 980.6 L169.7 980.6 L171.8 980.6 L174 980.6 L176.1 980.6 L178.2 980.7 L180.3 980.7 L182.5 980.6 L184.6 980.6 L186.7 980.6 L188.9 980.6 L191 980.6 L193.1 980.6 L195.2 980.7 L197.4 980.6 L199.5 980.6 L201.6 980.6 L203.7 980.6 L205.9 980.5 L208 980.6 L210.1 980.6 L212.3 980.5 L214.4 980.4 L216.5 980.4 L218.6 980.4 L220.8 980.4 L222.9 980.4 L225 980.5 L227.1 980.4 L229.3 980.3 L231.4 980.3 L233.5 980.3 L235.6 980.3 L237.8 980.3 L239.9 980.3 L242 980 L244.2 979.7 L246.3 979.6 L248.4 979.5 L250.5 979.3 L252.7 979.3 L254.8 979.4 L256.9 978.8 L259 978.5 L261.2 978.5 L263.3 978.7 L265.4 978.8 L267.6 979 L269.7 979.4 L271.8 979.1 L273.9 979.1 L276.1 979.3 L278.2 979.5 L280.3 979.5 L282.4 979.7 L284.6 979.9 L286.7 979.8 L288.8 979.8 L291 979.9 L293.1 980 L295.2 980 L297.3 980.2 L299.5 980.3 L301.6 980.2 L303.7 980.2 L305.8 980.2 L308 980.3 L310.1 980.3 L312.2 980.4 L314.4 980.5 L316.5 980.4 L318.6 980.4 L320.7 980.5 L322.9 980.5 L325 980.6 L327.1 980.6 L329.2 980.7 L331.4 980.6 L333.5 980.6 L335.6 980.6 L337.8 980.6 L339.9 980.6 L342 980.6 L344.1 980.7 L346.3 980.6 L348.4 980.6 L350.5 980.6 L352.6 980.6 L354.8 980.6 L356.9 980.6 L359 980.7 L361.1 980.6 L363.3 980.6 L365.4 980.6 L367.5 980.6 L369.7 980.6 L371.8 980.6 L373.9 980.7 L376 980.6 L378.2 980.6 L380.3 980.6 L382.4 980.6 L384.5 980.6 L386.7 980.6 L388.8 980.7 L390.9 980.6 L393.1 980.6 L395.2 980.6 L397.3 980.6 L399.4 980.6 L401.6 980.6 L403.7 980.7 L405.8 980.6 L407.9 980.5 L410.1 980.5 L412.2 980.5 L414.3 980.5 L416.5 980.5 L418.6 980.6 L420.7 980.5 L422.8 980.4 L425 980.4 L427.1 980.4 L429.2 980.4 L431.3 980.4 L433.5 980.4 L435.6 980.2 L437.7 980 L439.8 980 L442 979.9 L444.1 979.8 L446.2 979.8 L448.4 979.9 L450.5 979.6 L452.6 979.4 L454.7 979.4 L456.9 979.4 L459 979.3 L461.1 979.3 L463.2 979.5 L465.4 979.1 L467.5 978.8 L469.6 978.8 L471.8 978.7 L473.9 978.5 L476 978.5 L478.1 978.7 L480.3 978 L482.4 977.7 L484.5 977.6 L486.6 977.5 L488.8 977.4 L490.9 977.5 L493 977.8 L495.2 976.9 L497.3 976.5 L499.4 976.5 L501.5 976.5 L503.7 976.4 L505.8 976.7 L507.9 977.2 L510 976.2 L512.2 975.9 L514.3 976 L516.4 976.3 L518.6 976.4 L520.7 976.9 L522.8 977.6 L524.9 976.9 L527.1 976.8 L529.2 977 L531.3 977.3 L533.4 977.4 L535.6 977.8 L537.7 978.4 L539.8 977.9 L542 977.8 L544.1 978 L546.2 978.1 L548.3 978.2 L550.5 978.5 L552.6 978.9 L554.7 978.6 L556.8 978.5 L559 978.7 L561.1 978.8 L563.2 978.8 L565.3 978.9 L567.5 979.3 L569.6 978.9 L571.7 978.8 L573.9 978.9 L576 978.9 L578.1 978.9 L580.2 979.1 L582.4 979.4 L584.5 979.1 L586.6 979 L588.7 979 L590.9 979.1 L593 979.1 L595.1 979.3 L597.3 979.5 L599.4 979.2 L601.5 979.1 L603.6 979.1 L605.8 979.2 L607.9 979.2 L610 979.3 L612.1 979.5 L614.3 979.2 L616.4 979 L618.5 979.1 L620.7 979.1 L622.8 979.1 L624.9 979.2 L627 979.5 L629.2 979.1 L631.3 979 L633.4 979 L635.5 979.1 L637.7 979 L639.8 979.2 L641.9 979.4 L644 979.1 L646.2 978.9 L648.3 979 L650.4 979 L652.6 979 L654.7 979.1 L656.8 979.4 L658.9 979 L661.1 978.9 L663.2 978.9 L665.3 979 L667.4 978.9 L669.6 979.1 L671.7 979.3 L673.8 979 L676 978.8 L678.1 978.9 L680.2 978.8 L682.3 978.7 L684.5 978.7 L686.6 979 L688.7 978.4 L690.8 978.1 L693 978 L695.1 978 L697.2 977.9 L699.4 978 L701.5 978.3 L703.6 977.6 L705.7 977.2 L707.9 977.2 L710 977.2 L712.1 977.1 L714.2 977.2 L716.4 977.7 L718.5 976.8 L720.6 976.2 L722.8 976.1 L724.9 976 L727 975.7 L729.1 975.9 L731.3 976.4 L733.4 975.1 L735.5 974.5 L737.6 974.4 L739.8 974.3 L741.9 974 L744 974.3 L746.1 975.3 L748.3 973.9 L750.4 973.4 L752.5 973.5 L754.7 973.7 L756.8 973.6 L758.9 974.1 L761 975 L763.2 973.6 L765.3 973.1 L767.4 973.2 L769.5 973.4 L771.7 973.2 L773.8 973.6 L775.9 974.5 L778.1 972.9 L780.2 972.2 L782.3 972.3 L784.4 972.4 L786.6 972.2 L788.7 972.7 L790.8 973.8 L792.9 972 L795.1 971.2 L797.2 971.4 L799.3 971.5 L801.5 971.2 L803.6 971.7 L805.7 972.8 L807.8 970.7 L810 969.9 L812.1 969.9 L814.2 970 L816.3 969.8 L818.5 970.4 L820.6 971.7 L822.7 969.3 L824.9 968.4 L827 968.5 L829.1 968.3 L831.2 967 L833.4 966.8 L835.5 967.8 L837.6 963 L839.7 959.5 L841.9 957.9 L844 957.2 L846.1 958.3 L848.2 961.1 L850.4 965 L852.5 961.3 L854.6 960 L856.8 960.6 L858.9 961.1 L861 961.6 L863.1 963.8 L865.3 967 L867.4 964.6 L869.5 964.4 L871.6 965.7 L873.8 966.9 L875.9 967.6 L878 969.3 L880.2 971.4 L882.3 969.7 L884.4 969.5 L886.5 970.3 L888.7 971.1 L890.8 971.5 L892.9 972.7 L895 974.3 L897.2 973.2 L899.3 973.1 L901.4 973.5 L903.6 973.9 L905.7 974.1 L907.8 974.8 L909.9 975.8 L912.1 974.8 L914.2 974.7 L916.3 975.1 L918.4 975.4 L920.6 975.6 L922.7 976.2 L924.8 977.1 L927 976.3 L929.1 976.2 L931.2 976.4 L933.3 976.6 L935.5 976.6 L937.6 977 L939.7 977.6 L941.8 976.9 L944 976.7 L946.1 976.9 L948.2 977.1 L950.3 977.1 L952.5 977.5 L954.6 978 L956.7 977.4 L958.9 977.2 L961 977.2 L963.1 977.2 L965.2 977.1 L967.4 977.3 L969.5 977.8 L971.6 976.9 L973.7 976.6 L975.9 976.6 L978 976.7 L980.1 976.5 L982.3 976.8 L984.4 977.3 L986.5 976.4 L988.6 976 L990.8 975.8 L992.9 975.6 L995 975.3 L997.1 975.4 L999.3 976 L1001.4 974.5 L1003.5 973.7 L1005.7 973.6 L1007.8 973.5 L1009.9 973.2 L1012 973.4 L1014.2 974.3 L1016.3 972.4 L1018.4 971.5 L1020.5 971.5 L1022.7 971.4 L1024.8 971 L1026.9 971.5 L1029.1 972.6 L1031.2 970.2 L1033.3 969.2 L1035.4 969.2 L1037.6 969.2 L1039.7 968.7 L1041.8 969.3 L1043.9 970.7 L1046.1 967.9 L1048.2 966.7 L1050.3 966.8 L1052.4 966.8 L1054.6 966.4 L1056.7 967.1 L1058.8 968.8 L1061 965.7 L1063.1 964.4 L1065.2 964.6 L1067.3 964.8 L1069.5 964.4 L1071.6 965.4 L1073.7 967.4 L1075.8 963.9 L1078 962.6 L1080.1 962.6 L1082.2 962.5 L1084.4 961.9 L1086.5 962.7 L1088.6 964.9 L1090.7 960.6 L1092.9 958.7 L1095 959.3 L1097.1 960.3 L1099.2 960.4 L1101.4 962.2 L1103.5 965.2 L1105.6 961.8 L1107.8 960.9 L1109.9 961.9 L1112 963.1 L1114.1 963.5 L1116.3 965.3 L1118.4 968 L1120.5 965.6 L1122.6 965.2 L1124.8 966.3 L1126.9 967.3 L1129 967.8 L1131.2 969.2 L1133.3 971.3 L1135.4 969.5 L1137.5 969.3 L1139.7 970.1 L1141.8 970.9 L1143.9 971.3 L1146 972.5 L1148.2 974.1 L1150.3 972.8 L1152.4 972.6 L1154.5 973.1 L1156.7 973.6 L1158.8 973.9 L1160.9 974.7 L1163.1 975.8 L1165.2 974.9 L1167.3 974.8 L1169.4 975.2 L1171.6 975.4 L1173.7 975.4 L1175.8 975.9 L1177.9 976.6 L1180.1 975.7 L1182.2 975.4 L1184.3 975.6 L1186.5 975.8 L1188.6 975.8 L1190.7 976.2 L1192.8 976.9 L1195 976 L1197.1 975.8 L1199.2 975.9 L1201.3 976 L1203.5 975.8 L1205.6 976.1 L1207.7 976.8 L1209.9 975.7 L1212 975.3 L1214.1 975.3 L1216.2 975.4 L1218.4 975.3 L1220.5 975.4 L1222.6 976 L1224.7 974.6 L1226.9 973.9 L1229 973.8 L1231.1 973.7 L1233.3 973.4 L1235.4 973.5 L1237.5 974.2 L1239.6 972 L1240 973.5 L1240.8 973.4 L1241.6 973.2 L1242.4 972.8 L1243.2 972.6 L1244 972.5 L1244.7 972.3 L1245.5 971.6 L1246.2 970.8 L1246.9 969.9 L1247.7 969.2 L1248.4 969 L1249.2 969.3 L1250 970 L1250.9 971 L1251.7 971.7 L1252.5 972 L1253.2 971.8 L1254 971.1 L1254.7 970.1 L1255.5 968.8 L1256.2 967.4 L1257 966.2 L1257.7 965.1 L1258.5 964.4 L1259.2 964.2 L1260 964.5 L1260.8 965.4 L1261.6 966.6 L1262.4 967.8 L1263.2 968.7 L1264 969 L1264.8 968.1 L1265.6 965.9 L1266.4 963.1 L1267.2 960.9 L1268 960 L1268.8 959.5 L1269.5 958.2 L1270.2 956.3 L1271 954 L1271.8 951.7 L1272.5 949.8 L1273.2 948.5 L1274 948 L1274.9 946.9 L1275.7 944.6 L1276.6 943.5 L1277.4 944.1 L1278.2 945.4 L1279 946 L1279.7 946.8 L1280.5 949 L1281.2 951.8 L1282 954 L1282.7 954.8 L1283.4 954.4 L1284.2 953.2 L1284.9 951.3 L1285.6 948.9 L1286.3 946.1 L1287.1 943 L1287.8 939.9 L1288.5 937.1 L1289.2 934.7 L1290 932.8 L1290.7 931.6 L1291.4 931.2 L1292.1 931.5 L1292.9 932.5 L1293.6 934 L1294.4 936 L1295.1 938.2 L1295.9 940.6 L1296.6 942.8 L1297.4 944.8 L1298.1 946.3 L1298.9 947.3 L1299.6 947.6 L1300.3 946.8 L1301 944.7 L1301.8 941.3 L1302.5 937 L1303.2 932.2 L1303.9 927.5 L1304.6 923.2 L1305.4 919.8 L1306.1 917.7 L1306.8 916.9 L1307.6 917.6 L1308.3 919.4 L1309.1 922.3 L1309.9 925.6 L1310.7 928.9 L1311.5 931.8 L1312.2 933.6 L1313 934.3 L1313.7 933.7 L1314.4 932 L1315.1 929.2 L1315.8 925.6 L1316.5 921.4 L1317.2 916.9 L1317.9 912.4 L1318.6 908.2 L1319.3 904.6 L1320 901.8 L1320.7 900.1 L1321.4 899.5 L1322.1 900.6 L1322.9 903.7 L1323.6 908.3 L1324.3 913.8 L1325.1 919.3 L1325.8 923.9 L1326.6 927 L1327.3 928.1 L1328 927.3 L1328.8 925.1 L1329.5 921.7 L1330.2 917.5 L1331 913.1 L1331.7 908.9 L1332.4 905.5 L1333.2 903.3 L1333.9 902.5 L1334.6 903.1 L1335.4 904.9 L1336.1 907.8 L1336.8 911.6 L1337.5 916 L1338.2 920.7 L1339 925.4 L1339.7 929.8 L1340.4 933.6 L1341.1 936.5 L1341.9 938.3 L1342.6 938.9 L1343.4 936.9 L1344.2 931.8 L1345.1 925.5 L1345.9 920.4 L1346.7 918.4 L1347.5 918.8 L1348.2 920.1 L1349 922 L1349.8 924.2 L1350.6 926.4 L1351.4 928.3 L1352.1 929.6 L1352.9 930 L1353.7 931.8 L1354.5 936 L1355.2 940.2 L1356 942 L1356.8 942.4 L1357.5 943.5 L1358.2 945.1 L1359 947 L1359.8 948.9 L1360.5 950.5 L1361.2 951.6 L1362 952 L1362.8 952.2 L1363.5 952.9 L1364.2 953.9 L1365 955 L1365.8 956.1 L1366.5 957.1 L1367.2 957.8 L1368 958 L1368.7 958.1 L1369.4 958.5 L1370.1 959 L1370.8 959.7 L1371.5 960.5 L1372.2 961.3 L1372.9 962 L1373.6 962.5 L1374.3 962.9 L1375 963 L1375.7 963.1 L1376.4 963.2 L1377.1 963.5 L1377.9 963.9 L1378.6 964.4 L1379.3 964.9 L1380 965.5 L1380.7 966.1 L1381.4 966.6 L1382.1 967.1 L1382.9 967.5 L1383.6 967.8 L1384.3 967.9 L1385 968 L1385.7 968.1 L1386.4 968.2 L1387.1 968.4 L1387.9 968.8 L1388.6 969.1 L1389.3 969.6 L1390 970 L1390.7 970.4 L1391.4 970.9 L1392.1 971.2 L1392.9 971.6 L1393.6 971.8 L1394.3 971.9 L1395 972 L1397 973.3 L1399.2 974.4 L1401.3 975.7 L1403.4 975 L1405.5 975.2 L1407.7 975.9 L1409.8 976.4 L1411.9 976.7 L1414.1 977.2 L1416.2 978 L1418.3 977.5 L1420.4 977.6 L1422.6 978 L1424.7 978.3 L1426.8 978.5 L1428.9 978.8 L1431.1 979.3 L1433.2 979.1 L1435.3 979.2 L1437.5 979.4 L1439.6 979.6 L1441.7 979.6 L1443.8 979.7 L1446 980 L1448.1 979.7 L1450.2 979.7 L1452.3 979.8 L1454.5 979.8 L1456.6 979.9 L1458.7 980 L1460.8 980.1 L1463 980 L1465.1 979.9 L1467.2 980 L1469.4 980.1 L1471.5 980.1 L1473.6 980.2 L1475.7 980.3 L1477.9 980.2 L1480 980.2 L1482.1 980.2 L1484.2 980.3 L1486.4 980.3 L1488.5 980.4 L1490.6 980.5 L1492.8 980.4 L1494.9 980.4 L1497 980.5 L1499.1 980.5 L1501.3 980.5 L1503.4 980.6 L1505.5 980.6 L1507.6 980.5 L1509.8 980.5 L1511.9 980.5 L1514 980.5 L1516.2 980.5 L1518.3 980.5 L1520.4 980.6 L1522.5 980.5 L1524.7 980.5 L1526.8 980.5 L1528.9 980.5 L1531 980.5 L1533.2 980.5 L1535.3 980.6 L1537.4 980.5 L1539.6 980.5 L1541.7 980.5 L1543.8 980.5 L1545.9 980.5 L1548.1 980.5 L1550.2 980.6 L1552.3 980.5 L1554.4 980.4 L1556.6 980.5 L1558.7 980.5 L1560.8 980.5 L1562.9 980.5 L1565.1 980.6 L1567.2 980.5 L1569.3 980.4 L1571.5 980.4 L1573.6 980.4 L1575.7 980.4 L1577.8 980.5 L1580 980.6 L1582.1 980.4 L1584.2 980.4 L1586.3 980.4 L1588.5 980.4 L1590.6 980.2 L1592.7 980.1 L1594.9 980.1 L1597 979.7 L1599.1 979.3 L1601.2 979 L1603.4 978.7 L1605.5 978.1 L1607.6 977.8 L1609.7 978.6 L1611.9 973.9 L1614 968.1 L1616.1 964 L1618.3 960.5 L1620.4 953.6 L1622.5 952.2 L1624.6 962.1 L1626.8 929.6 L1628.9 910.3 L1631 906.5 L1633.1 903.9 L1635.3 890.6 L1637.4 898.5 L1639.5 931.8 L1641.7 856.6 L1643.8 817.8 L1645.9 815.2 L1648 814.7 L1650.2 797.9 L1652.3 825.5 L1654.4 893.6 L1656.5 770.6 L1658.7 716.4 L1660.8 721.8 L1662.9 729.2 L1665 713.2 L1667.2 761.8 L1669.3 861.8 L1671.4 706.3 L1673.6 654 L1675.7 676.9 L1677.8 699.8 L1679.9 693.2 L1682.1 752.1 L1684.2 860 L1686.3 707.2 L1688.4 657.2 L1690.6 681.8 L1692.7 706.1 L1694.8 701.5 L1697 760.2 L1699.1 865 L1701.2 720.8 L1703.3 678.2 L1705.5 705.7 L1707.6 732.4 L1709.7 732.6 L1711.8 788.2 L1714 881.6 L1716.1 761 L1718.2 722.3 L1720.4 743.3 L1722.5 763.9 L1724.6 761.6 L1726.7 808.7 L1728.9 891.1 L1731 780.3 L1733.1 747.5 L1735.2 769 L1737.4 789.7 L1739.5 790.1 L1741.6 833 L1743.8 904.8 L1745.9 811.1 L1748 780.8 L1750.1 796.8 L1752.3 812.5 L1754.4 810.5 L1756.5 846.9 L1758.6 910.9 L1760 792.1 L1761.1 791.7 L1763.2 798.5 L1765.4 813.5 L1767.5 852.1 L1769.6 846.7 L1771.8 873.5 L1773.9 918.4 L1776.1 931.3 L1777.6 814.6 L1780.3 823.2 L1782.5 843.5 L1785 837.1 L1786.8 858.5 L1788.9 918.4 L1791 808.8 L1793.2 809.7 L1795.3 824.2 L1797.5 836 L1799.6 827.4 L1801.7 858.5 L1803.9 919.5 L1805.6 806 L1807.7 800.7 L1810.3 815.7 L1812 826.4 L1814.2 816.1 L1816.3 849.9 L1818.4 915.2 L1820.6 791 L1822.7 798.5 L1825.3 824.2 L1827 842.4 L1828.9 843.9 L1831.1 879.9 L1833.4 932.3 L1835.4 828.1 L1838.1 827 L1839.9 844.6 L1842 854.2 L1844.1 845.6 L1846.3 879.9 L1848.4 929.1 L1850.3 832.1 L1852.5 837.1 L1854.6 858.5 L1856.8 871.3 L1858.9 932.3 L1860.6 898.1 L1863.2 934.5 L1865.3 859.6 L1867.5 916.3 L1869.6 920.6 L1871.3 922.1 L1873.9 826.4 L1875.6 849.9 L1877.8 919.5 L1880.3 825.3 L1882.5 842.4 L1884.8 860.6 L1886.7 864.9 L1888.5 858.5 L1890.6 879.9 L1893 933.4 L1894.9 844.6 L1897 848.8 L1899.2 860.6 L1901.3 870.9 L1903.4 869.6 L1905.6 897 L1907.7 941.6 L1909.9 862.8 L1912.4 873.5 L1914.6 892.7 L1916.7 902.4 L1918.9 903 L1921 931.3 L1922.9 955.3 L1924.9 903.4 L1927 908.8 L1929.1 920.6 L1931.3 924.9 L1933.4 925.3 L1935.6 942 L1937.7 960.6 L1940 919.3 L1943.8 931.5 L1947.6 935.4 L1950.5 948 L1952.6 962.1 L1955.3 925.8 L1961 937.3 L1963.7 935.4 L1967.5 963.3 L1969.8 923.9 L1975.2 933.5 L1978.2 929.6 L1982 958.3 L1984.3 909.4 L1986.6 906.7 L1989.7 908.6 L1992.7 896.4 L1996.6 939.2 L1999.2 841.7 L2001.1 832.2 L2005 826.5 L2007.6 795.9 L2011.5 895.2 L2013.7 740.5 L2015.7 658.3 L2018.3 666 L2020.2 662 L2022.5 606.7 L2026.7 797.8 L2028.6 809.3 L2030.3 316 L2033 328 L2036 318 L2038.5 330 L2040.4 500 L2041.3 734.8 L2042.3 480 L2044 202.6 L2046 283 L2050 286 L2053 292 L2055 480 L2056.3 731 L2057.4 450 L2058.9 146.1 L2061.5 262 L2065 258 L2068 266 L2070.6 480 L2071.6 726 L2072.6 450 L2073.9 152.2 L2076.5 300 L2078.5 340 L2080.4 679 L2082.3 311.7 L2084 350 L2085.8 671 L2088.5 330 L2090.8 176 L2093 184.5 L2095 330 L2097 208.1 L2099 300 L2101.1 540 L2103.5 300 L2105.7 219.2 L2108.4 262 L2110 370 L2113 440 L2115.4 680.5 L2118 560 L2120.2 449.5 L2122.5 560 L2125.7 640" fill="none" stroke="#ed7d31" stroke-width="1.4" stroke-linejoin="round"/>
<path d="M326.2 981 L326.2 969.4 L328.6 969.1 L330.7 968.8 L332.9 968.5 L335 968.2 L337.1 967.9 L339.2 967.6 L341.4 967.4 L343.5 967.2 L345.6 967.1 L347.8 966.9 L349.9 966.7 L352 966.6 L354.1 966.4 L356.3 966.2 L358.4 966.1 L360.5 965.9 L362.6 965.7 L364.8 965.6 L366.9 965.4 L369 965.2 L371.2 965.1 L373.3 965 L375.4 964.9 L377.5 964.8 L379.7 964.7 L381.8 964.7 L383.9 964.6 L386 964.5 L388.2 964.5 L390.3 964.4 L392.4 964.3 L394.6 964.2 L396.7 964.2 L398.8 964.1 L400.9 964 L403.1 964 L405.2 963.9 L407.3 963.8 L409.4 963.8 L411.6 963.7 L413.7 963.6 L415.8 963.5 L418 963.5 L420.1 963.4 L422.2 963.4 L424.3 963.3 L426.5 963.3 L428.6 963.3 L430.7 963.2 L432.8 963.2 L435 963.2 L437.1 963.1 L439.2 963.1 L441.3 963.1 L443.5 963 L445.6 963 L447.7 963 L449.9 963 L452 962.9 L454.1 962.9 L456.2 962.9 L458.4 962.8 L460.5 962.8 L462.6 962.7 L464.7 962.7 L466.9 962.7 L469 962.6 L471.1 962.6 L473.3 962.5 L475.4 962.5 L477.5 962.4 L479.6 962.4 L481.8 962.4 L483.9 962.3 L486 962.3 L488.1 962.2 L490.3 962.2 L492.4 962.2 L494.5 962.1 L496.7 962.1 L498.8 962 L500.9 962 L503 961.8 L505.2 961.7 L507.3 961.6 L509.4 961.5 L511.5 961.4 L513.7 961.3 L515.8 961.2 L517.9 961.1 L520.1 961 L522.2 960.9 L524.3 960.8 L526.4 960.7 L528.6 960.6 L530.7 960.5 L532.8 960.4 L534.9 960.3 L537.1 960.1 L539.2 960 L541.3 959.9 L543.5 959.7 L545.6 959.5 L547.7 959.4 L549.8 959.2 L552 959 L554.1 958.8 L556.2 958.6 L558.3 958.5 L560.5 958.3 L562.6 958.1 L564.7 957.9 L566.8 957.8 L569 957.6 L571.1 957.4 L573.2 957.2 L575.4 957.1 L577.5 956.9 L579.6 956.7 L581.7 956.5 L583.9 956.3 L586 956.2 L588.1 956 L590.2 955.8 L592.4 955.6 L594.5 955.5 L596.6 955.3 L598.8 955.1 L600.9 954.9 L603 954.8 L605.1 954.6 L607.3 954.5 L609.4 954.3 L611.5 954.2 L613.6 954 L615.8 953.9 L617.9 953.7 L620 953.6 L622.2 953.4 L624.3 953.3 L626.4 953.2 L628.5 953 L630.7 952.9 L632.8 952.7 L634.9 952.6 L637 952.4 L639.2 952.3 L641.3 952.1 L643.4 952 L645.5 951.8 L647.7 951.7 L649.8 951.5 L651.9 951.4 L654.1 951.3 L656.2 951.1 L658.3 951 L660.4 950.9 L662.6 950.7 L664.7 950.6 L666.8 950.5 L668.9 950.4 L671.1 950.2 L673.2 950.1 L675.3 950 L677.5 949.9 L679.6 949.7 L681.7 949.6 L683.8 949.5 L686 949.3 L688.1 949.2 L690.2 949.1 L692.3 949 L694.5 948.8 L696.6 948.7 L698.7 948.6 L700.9 948.4 L703 948.2 L705.1 948.1 L707.2 947.9 L709.4 947.7 L711.5 947.5 L713.6 947.3 L715.7 947.1 L717.9 946.9 L720 946.8 L722.1 946.6 L724.3 946.4 L726.4 946.2 L728.5 946 L730.6 945.8 L732.8 945.6 L734.9 945.4 L737 945.3 L739.1 945.1 L741.3 944.8 L743.4 944.5 L745.5 944.2 L747.6 943.9 L749.8 943.5 L751.9 943.2 L754 942.9 L756.2 942.6 L758.3 942.3 L760.4 941.9 L762.5 941.4 L764.7 940.8 L766.8 940.3 L768.9 939.8 L771 939.2 L773.2 938.7 L775.3 938.2 L777.4 937.6 L779.6 937.1 L781.7 936.3 L783.8 935.5 L785.9 934.6 L788.1 933.8 L790.2 932.9 L792.3 932.1 L794.4 931.2 L796.6 930.4 L798.7 929.5 L800.8 928.6 L803 927.5 L805.1 926.4 L807.2 925.3 L809.3 924.2 L811.5 923.2 L813.6 922.1 L815.7 921 L817.8 919.9 L820 918.8 L822.1 918.1 L824.2 917.4 L826.4 916.6 L828.5 915.9 L830.6 915 L832.7 913.7 L834.9 912.4 L837 911.1 L839.1 909.7 L841.2 908.4 L843.4 907.1 L845.5 905.9 L847.6 904.7 L849.8 903.5 L851.9 902.3 L854 901.2 L856.1 900 L858.3 898.8 L860.4 897.6 L862.5 896.4 L864.6 895.2 L866.8 893.7 L868.9 892.3 L871 890.8 L873.1 889.3 L875.3 887.8 L877.4 886.3 L879.5 884.8 L881.7 883.3 L883.8 881.8 L885.9 880.4 L888 878.9 L890.2 877.1 L892.3 875.3 L894.4 873.5 L896.5 871.6 L898.7 869.8 L900.8 868 L902.9 866.1 L905.1 864.3 L907.2 862.5 L909.3 860.6 L911.4 858.8 L913.6 857 L915.7 855.1 L917.8 853.5 L919.9 852.2 L922.1 850.9 L924.2 849.6 L926.3 848.3 L928.5 847 L930.6 845.7 L932.7 844.4 L934.8 843 L937 841.7 L939.1 840.4 L941.2 839.1 L943.3 837.8 L945.5 836.6 L947.6 835.6 L949.7 834.6 L951.8 833.6 L954 832.6 L956.1 831.6 L958.2 830.7 L960.4 829.7 L962.5 828.7 L964.6 827.7 L966.7 826.7 L968.9 825.7 L971 824.7 L973.1 823.7 L975.2 822.8 L977.4 821.8 L979.5 820.8 L981.6 819.8 L983.8 819.2 L985.9 818.6 L988 818 L990.1 817.4 L992.3 816.8 L994.4 816.2 L996.5 815.6 L998.6 815 L1000.8 814.4 L1002.9 813.8 L1005 813.2 L1007.2 812.7 L1009.3 812.1 L1011.4 811.5 L1013.5 810.9 L1015.7 810.3 L1017.8 809.7 L1019.9 809.1 L1022 808.5 L1024.2 808.1 L1026.3 807.7 L1028.4 807.3 L1030.6 806.9 L1032.7 806.6 L1034.8 806.2 L1036.9 805.8 L1039.1 805.3 L1041.2 804.6 L1043.3 803.9 L1045.4 803.3 L1047.6 802.6 L1049.7 802 L1051.8 801.3 L1053.9 800.6 L1056.1 800 L1058.2 799.3 L1060.3 798.7 L1062.5 798 L1064.6 797.3 L1066.7 796.7 L1068.8 796 L1071 795.3 L1073.1 794.2 L1075.2 793.1 L1077.3 792.1 L1079.5 791 L1081.6 789.9 L1083.7 788.9 L1085.9 787.8 L1088 786.8 L1090.1 785.7 L1092.2 784.6 L1094.4 783.6 L1096.5 781.9 L1098.6 780.1 L1100.7 778.4 L1102.9 776.6 L1105 774.8 L1107.1 773.1 L1109.3 771.3 L1111.4 769.5 L1113.5 767.8 L1115.6 766 L1117.8 764.2 L1119.9 762.4 L1122 760.4 L1124.1 758.4 L1126.3 756.5 L1128.4 754.5 L1130.5 752.5 L1132.7 750.6 L1134.8 748.6 L1136.9 746.6 L1139 744.7 L1141.2 742.7 L1143.3 740.8 L1145.4 739.1 L1147.5 737.4 L1149.7 735.7 L1151.8 734 L1153.9 732.3 L1156 730.6 L1158.2 728.9 L1160.3 727.3 L1162.4 725.6 L1164.6 724.1 L1166.7 722.8 L1168.8 721.6 L1170.9 720.3 L1173.1 719 L1175.2 717.7 L1177.3 716.5 L1179.4 715.2 L1181.6 713.9 L1183.7 712.7 L1185.8 712 L1188 711.2 L1190.1 710.5 L1192.2 709.8 L1194.3 709.1 L1196.5 708.4 L1198.6 707.7 L1200.7 707 L1202.8 706.3 L1205 705.6 L1207.1 704.9 L1209.2 704.4 L1211.4 704.1 L1213.5 703.9 L1215.6 703.6 L1217.7 703.3 L1219.9 703 L1222 702.7 L1224.1 702.4 L1226.2 702.2 L1228.4 701.9 L1230.5 701.6 L1232.6 701.3 L1234.8 701 L1236.9 700.7 L1239 700.5 L1241.1 700.2 L1243.3 699.9 L1245.4 699.6 L1247.5 699.4 L1249.6 699.1 L1251.8 698.9 L1253.9 698.6 L1256 698.4 L1258.1 698.1 L1260.3 697.9 L1262.4 697.6 L1264.5 697.4 L1266.7 697.2 L1268.8 697 L1270.9 696.9 L1273 696.7 L1275.2 696.5 L1277.3 696.3 L1279.4 696.2 L1281.5 696 L1283.7 695.8 L1285.8 695.6 L1287.9 695.3 L1290.1 695 L1292.2 694.7 L1294.3 694.4 L1296.4 694.1 L1298.6 693.8 L1300.7 693.6 L1302.8 693.3 L1304.9 693 L1307.1 692.7 L1309.2 692.3 L1311.3 691.7 L1313.5 691 L1315.6 690.4 L1317.7 689.8 L1319.8 689.1 L1322 688.5 L1324.1 687.9 L1326.2 687.2 L1328.3 686.6 L1330.5 686 L1332.6 685.3 L1334.7 684.4 L1336.9 683.4 L1339 682.5 L1341.1 681.5 L1343.2 680.5 L1345.4 679.6 L1347.5 678.6 L1349.6 677.6 L1351.7 676.7 L1353.9 675.7 L1356 674.8 L1358.1 673.6 L1360.2 672.4 L1362.4 671.1 L1364.5 669.8 L1366.6 668.6 L1368.8 667.3 L1370.9 666 L1373 664.8 L1375.1 663.5 L1377.3 662.2 L1379.4 661 L1381.5 659.8 L1383.6 659 L1385.8 658.2 L1387.9 657.3 L1390 656.5 L1392.2 655.7 L1394.3 654.9 L1396.4 654.1 L1398.5 653.2 L1400.7 652.4 L1402.8 651.6 L1404.9 650.8 L1407 649.9 L1409.2 649.1 L1411.3 648.6 L1413.4 648.1 L1415.6 647.6 L1417.7 647.1 L1419.8 646.7 L1421.9 646.2 L1424.1 645.7 L1426.2 645.2 L1428.3 644.7 L1430.4 644.2 L1432.6 643.8 L1434.7 643.4 L1436.8 643.1 L1439 642.8 L1441.1 642.5 L1443.2 642.2 L1445.3 641.9 L1447.5 641.6 L1449.6 641.3 L1451.7 641 L1453.8 640.7 L1456 640.4 L1458.1 640.1 L1460.2 639.8 L1462.3 639.4 L1464.5 639.1 L1466.6 638.7 L1468.7 638.4 L1470.9 638 L1473 637.7 L1475.1 637.5 L1477.2 637.4 L1479.4 637.4 L1481.5 637.3 L1483.6 637.2 L1485.7 637.2 L1487.9 637.1 L1490 637.1 L1492.1 637 L1494.3 636.9 L1496.4 636.9 L1498.5 636.8 L1500.6 636.8 L1502.8 636.7 L1504.9 636.6 L1507 636.6 L1509.1 636.5 L1511.3 636.5 L1513.4 636.4 L1515.5 636.3 L1517.7 636.3 L1519.8 636.3 L1521.9 636.2 L1524 636.2 L1526.2 636.2 L1528.3 636.2 L1530.4 636.2 L1532.5 636.1 L1534.7 636.1 L1536.8 636.1 L1538.9 636.1 L1541.1 636 L1543.2 636 L1545.3 636 L1547.4 636 L1549.6 636 L1551.7 635.9 L1553.8 635.9 L1555.9 635.9 L1558.1 635.9 L1560.2 635.8 L1562.3 635.8 L1564.4 635.8 L1566.6 635.8 L1568.7 635.8 L1570.8 635.7 L1573 635.7 L1575.1 635.7 L1577.2 635.7 L1579.3 635.6 L1581.5 635.6 L1583.6 635.6 L1585.7 635.6 L1587.8 635.6 L1590 635.5 L1592.1 635.5 L1594.2 635.5 L1596.4 635.5 L1598.5 635.4 L1600.6 635.4 L1602.7 635.4 L1604.9 635.3 L1607 635.3 L1609.1 635.2 L1611.2 635.2 L1613.4 635.1 L1615.5 635.1 L1617.6 635 L1619.8 635 L1621.9 634.9 L1624 634.8 L1626.1 634.8 L1628.3 634.7 L1630.4 634.7 L1632.5 634.6 L1634.6 634.6 L1636.8 634.5 L1638.9 634.4 L1641 634.2 L1643.2 634 L1645.3 633.9 L1647.4 633.7 L1649.5 633.5 L1651.7 633.4 L1653.8 633.2 L1655.9 632.5 L1658 631.7 L1660.2 630.9 L1662.3 630.1 L1664.4 629.3 L1666.5 628.5 L1668.7 627.7 L1670.8 626.9 L1672.9 625.4 L1675.1 623.8 L1677.2 622.2 L1679.3 620.6 L1681.4 619.1 L1683.6 617.5 L1685.7 615.9 L1687.8 614.4 L1689.9 611.9 L1692.1 609.3 L1694.2 606.6 L1696.3 604 L1698.5 601.3 L1700.6 598.6 L1702.7 596 L1704.8 593.3 L1707 588.7 L1709.1 583.4 L1711.2 578.1 L1713.3 572.8 L1715.5 567.5 L1717.6 562.2 L1719.7 556.9 L1721.9 551.6 L1724 547.2 L1726.1 543.1 L1728.2 539 L1730.4 535 L1732.5 530.9 L1734.6 526.8 L1736.7 522.8 L1738.9 518.7 L1741 514.6 L1743.1 510.8 L1745.3 507.9 L1747.4 505 L1749.5 502.1 L1751.6 499.2 L1753.8 496.3 L1755.9 493.4 L1758 490.6 L1760.1 487.7 L1762.3 484.8 L1764.4 481.9 L1766.5 479 L1768.6 476.1 L1770.8 473.2 L1772.9 470.4 L1775 468.3 L1777.2 466.2 L1779.3 464.1 L1781.4 461.9 L1783.5 459.8 L1785.7 457.7 L1787.8 455.6 L1789.9 453.5 L1792 452.4 L1794.2 451.3 L1796.3 450.2 L1798.4 449.2 L1800.6 448.1 L1802.7 447.1 L1804.8 446 L1806.9 444.9 L1809.1 443.9 L1811.2 442.8 L1813.3 441.7 L1815.4 440.7 L1817.6 439.6 L1819.7 438.6 L1821.8 437.7 L1824 436.8 L1826.1 436 L1828.2 435.1 L1830.3 434.3 L1832.5 433.4 L1834.6 432.6 L1836.7 431.7 L1838.8 430.9 L1841 430 L1843.1 429.4 L1845.2 428.8 L1847.4 428.2 L1849.5 427.6 L1851.6 426.9 L1853.7 426.3 L1855.9 425.7 L1858 425.1 L1860.1 424.5 L1862.2 423.9 L1864.4 423.3 L1866.5 422.7 L1868.6 422.1 L1870.8 421.5 L1872.9 420.8 L1875 420.1 L1877.1 419.5 L1879.3 418.8 L1881.4 418.1 L1883.5 417.5 L1885.6 416.8 L1887.8 416.1 L1889.9 415.5 L1892 414.8 L1894.1 414.1 L1896.3 413.5 L1898.4 412.8 L1900.5 412.1 L1902.7 411.5 L1904.8 410.9 L1906.9 410.2 L1909 409.6 L1911.2 408.9 L1913.3 408.3 L1915.4 407.7 L1917.5 407 L1919.7 406.4 L1921.8 405.8 L1923.9 405.1 L1926.1 404.5 L1928.2 404 L1930.3 403.6 L1932.4 403.3 L1934.6 402.9 L1936.7 402.5 L1938.8 402.2 L1940.9 401.8 L1943.1 401.4 L1945.2 401 L1947.3 400.7 L1949.5 400.3 L1951.6 399.9 L1953.7 399.6 L1955.8 399.2 L1958 398.9 L1960.1 398.6 L1962.2 398.3 L1964.3 398.1 L1966.5 397.8 L1968.6 397.5 L1970.7 397.3 L1972.8 397 L1975 396.7 L1977.1 396.5 L1979.2 396.2 L1981.4 395.9 L1983.5 395.7 L1985.6 395.4 L1987.7 395.1 L1989.9 394.9 L1992 394.6 L1994.1 394.3 L1996.2 394 L1998.4 393.8 L2000.5 393.5 L2002.6 393.2 L2004.8 392.9 L2006.9 392.6 L2009 392.4 L2011.1 392.1 L2013.3 391.8 L2015.4 391.5 L2017.5 391.2 L2019.6 390.6 L2021.8 390.1 L2023.9 389.6 L2026 389 L2028.2 388.5 L2030.3 387.9 L2032.4 387.4 L2034.5 386.6 L2036.7 385.1 L2038.8 383.5 L2040.9 382 L2043 380.4 L2045.2 378.9 L2047.3 377.3 L2049.4 374.7 L2051.6 371.6 L2053.7 368.5 L2055.8 365.3 L2057.9 362.2 L2060.1 359.1 L2062.2 356 L2064.3 352.8 L2066.4 349.7 L2068.6 346.6 L2070.7 343.4 L2072.8 338.8 L2074.9 333.9 L2077.1 329 L2079.2 324.2 L2081.3 319.3 L2083.5 314.4 L2085.6 309.5 L2087.7 304.6 L2089.8 299.7 L2092 294.9 L2094.1 290 L2096.2 285.1 L2098.3 280.2 L2100.5 275.4 L2102.6 270.7 L2104.7 265.9 L2106.9 261.1 L2109 256.3 L2111.1 251.6 L2113.2 246.8 L2115.4 242 L2117.5 237.3 L2119.6 232.5 L2121.7 227.7 L2123.9 222.9 L2126 220.4 L2126 981 Z" fill="#cdcdcd" fill-opacity="0.3"/>
<path d="M326.2 981 L326.2 969.4 L328.6 969.1 L330.7 968.8 L332.9 968.5 L335 968.2 L337.1 967.9 L339.2 967.6 L341.4 967.4 L343.5 967.2 L345.6 967.1 L347.8 966.9 L349.9 966.7 L352 966.6 L354.1 966.4 L356.3 966.2 L358.4 966.1 L360.5 965.9 L362.6 965.7 L364.8 965.6 L366.9 965.4 L369 965.2 L371.2 965.1 L373.3 965 L375.4 964.9 L377.5 964.8 L379.7 964.7 L381.8 964.7 L383.9 964.6 L386 964.5 L388.2 964.5 L390.3 964.4 L392.4 964.3 L394.6 964.2 L396.7 964.2 L398.8 964.1 L400.9 964 L403.1 964 L405.2 963.9 L407.3 963.8 L409.4 963.8 L411.6 963.7 L413.7 963.6 L415.8 963.5 L418 963.5 L420.1 963.4 L422.2 963.4 L424.3 963.3 L426.5 963.3 L428.6 963.3 L430.7 963.2 L432.8 963.2 L435 963.2 L437.1 963.1 L439.2 963.1 L441.3 963.1 L443.5 963 L445.6 963 L447.7 963 L449.9 963 L452 962.9 L454.1 962.9 L456.2 962.9 L458.4 962.8 L460.5 962.8 L462.6 962.7 L464.7 962.7 L466.9 962.7 L469 962.6 L471.1 962.6 L473.3 962.5 L475.4 962.5 L477.5 962.4 L479.6 962.4 L481.8 962.4 L483.9 962.3 L486 962.3 L488.1 962.2 L490.3 962.2 L492.4 962.2 L494.5 962.1 L496.7 962.1 L498.8 962 L500.9 962 L503 961.8 L505.2 961.7 L507.3 961.6 L509.4 961.5 L511.5 961.4 L513.7 961.3 L515.8 961.2 L517.9 961.1 L520.1 961 L522.2 960.9 L524.3 960.8 L526.4 960.7 L528.6 960.6 L530.7 960.5 L532.8 960.4 L534.9 960.3 L537.1 960.1 L539.2 960 L541.3 959.9 L543.5 959.7 L545.6 959.5 L547.7 959.4 L549.8 959.2 L552 959 L554.1 958.8 L556.2 958.6 L558.3 958.5 L560.5 958.3 L562.6 958.1 L564.7 957.9 L566.8 957.8 L569 957.6 L571.1 957.4 L573.2 957.2 L575.4 957.1 L577.5 956.9 L579.6 956.7 L581.7 956.5 L583.9 956.3 L586 956.2 L588.1 956 L590.2 955.8 L592.4 955.6 L594.5 955.5 L596.6 955.3 L598.8 955.1 L600.9 954.9 L603 954.8 L605.1 954.6 L607.3 954.5 L609.4 954.3 L611.5 954.2 L613.6 954 L615.8 953.9 L617.9 953.7 L620 953.6 L622.2 953.4 L624.3 953.3 L626.4 953.2 L628.5 953 L630.7 952.9 L632.8 952.7 L634.9 952.6 L637 952.4 L639.2 952.3 L641.3 952.1 L643.4 952 L645.5 951.8 L647.7 951.7 L649.8 951.5 L651.9 951.4 L654.1 951.3 L656.2 951.1 L658.3 951 L660.4 950.9 L662.6 950.7 L664.7 950.6 L666.8 950.5 L668.9 950.4 L671.1 950.2 L673.2 950.1 L675.3 950 L677.5 949.9 L679.6 949.7 L681.7 949.6 L683.8 949.5 L686 949.3 L688.1 949.2 L690.2 949.1 L692.3 949 L694.5 948.8 L696.6 948.7 L698.7 948.6 L700.9 948.4 L703 948.2 L705.1 948.1 L707.2 947.9 L709.4 947.7 L711.5 947.5 L713.6 947.3 L715.7 947.1 L717.9 946.9 L720 946.8 L722.1 946.6 L724.3 946.4 L726.4 946.2 L728.5 946 L730.6 945.8 L732.8 945.6 L734.9 945.4 L737 945.3 L739.1 945.1 L741.3 944.8 L743.4 944.5 L745.5 944.2 L747.6 943.9 L749.8 943.5 L751.9 943.2 L754 942.9 L756.2 942.6 L758.3 942.3 L760.4 941.9 L762.5 941.4 L764.7 940.8 L766.8 940.3 L768.9 939.8 L771 939.2 L773.2 938.7 L775.3 938.2 L777.4 937.6 L779.6 937.1 L781.7 936.3 L783.8 935.5 L785.9 934.6 L788.1 933.8 L790.2 932.9 L792.3 932.1 L794.4 931.2 L796.6 930.4 L798.7 929.5 L800.8 928.6 L803 927.5 L805.1 926.4 L807.2 925.3 L809.3 924.2 L811.5 923.2 L813.6 922.1 L815.7 921 L817.8 919.9 L820 918.8 L822.1 918.1 L824.2 917.4 L826.4 916.6 L828.5 915.9 L830.6 915 L832.7 913.7 L834.9 912.4 L837 911.1 L839.1 909.7 L841.2 908.4 L843.4 907.1 L845.5 905.9 L847.6 904.7 L849.8 903.5 L851.9 902.3 L854 901.2 L856.1 900 L858.3 898.8 L860.4 897.6 L862.5 896.4 L864.6 895.2 L866.8 893.7 L868.9 892.3 L871 890.8 L873.1 889.3 L875.3 887.8 L877.4 886.3 L879.5 884.8 L881.7 883.3 L883.8 881.8 L885.9 880.4 L888 878.9 L890.2 877.1 L892.3 875.3 L894.4 873.5 L896.5 871.6 L898.7 869.8 L900.8 868 L902.9 866.1 L905.1 864.3 L907.2 862.5 L909.3 860.6 L911.4 858.8 L913.6 857 L915.7 855.1 L917.8 853.5 L919.9 852.2 L922.1 850.9 L924.2 849.6 L926.3 848.3 L928.5 847 L930.6 845.7 L932.7 844.4 L934.8 843 L937 841.7 L939.1 840.4 L941.2 839.1 L943.3 837.8 L945.5 836.6 L947.6 835.6 L949.7 834.6 L951.8 833.6 L954 832.6 L956.1 831.6 L958.2 830.7 L960.4 829.7 L962.5 828.7 L964.6 827.7 L966.7 826.7 L968.9 825.7 L971 824.7 L973.1 823.7 L975.2 822.8 L977.4 821.8 L979.5 820.8 L981.6 819.8 L983.8 819.2 L985.9 818.6 L988 818 L990.1 817.4 L992.3 816.8 L994.4 816.2 L996.5 815.6 L998.6 815 L1000.8 814.4 L1002.9 813.8 L1005 813.2 L1007.2 812.7 L1009.3 812.1 L1011.4 811.5 L1013.5 810.9 L1015.7 810.3 L1017.8 809.7 L1019.9 809.1 L1022 808.5 L1024.2 808.1 L1026.3 807.7 L1028.4 807.3 L1030.6 806.9 L1032.7 806.6 L1034.8 806.2 L1036.9 805.8 L1039.1 805.3 L1041.2 804.6 L1043.3 803.9 L1045.4 803.3 L1047.6 802.6 L1049.7 802 L1051.8 801.3 L1053.9 800.6 L1056.1 800 L1058.2 799.3 L1060.3 798.7 L1062.5 798 L1064.6 797.3 L1066.7 796.7 L1068.8 796 L1071 795.3 L1073.1 794.2 L1075.2 793.1 L1077.3 792.1 L1079.5 791 L1081.6 789.9 L1083.7 788.9 L1085.9 787.8 L1088 786.8 L1090.1 785.7 L1092.2 784.6 L1094.4 783.6 L1096.5 781.9 L1098.6 780.1 L1100.7 778.4 L1102.9 776.6 L1105 774.8 L1107.1 773.1 L1109.3 771.3 L1111.4 769.5 L1113.5 767.8 L1115.6 766 L1117.8 764.2 L1119.9 762.4 L1122 760.4 L1124.1 758.4 L1126.3 756.5 L1128.4 754.5 L1130.5 752.5 L1132.7 750.6 L1134.8 748.6 L1136.9 746.6 L1139 744.7 L1141.2 742.7 L1143.3 740.8 L1145.4 739.1 L1147.5 737.4 L1149.7 735.7 L1151.8 734 L1153.9 732.3 L1156 730.6 L1158.2 728.9 L1160.3 727.3 L1162.4 725.6 L1164.6 724.1 L1166.7 722.8 L1168.8 721.6 L1170.9 720.3 L1173.1 719 L1175.2 717.7 L1177.3 716.5 L1179.4 715.2 L1181.6 713.9 L1183.7 712.7 L1185.8 712 L1188 711.2 L1190.1 710.5 L1192.2 709.8 L1194.3 709.1 L1196.5 708.4 L1198.6 707.7 L1200.7 707 L1202.8 706.3 L1205 705.6 L1207.1 704.9 L1209.2 704.4 L1211.4 704.1 L1213.5 703.9 L1215.6 703.6 L1217.7 703.3 L1219.9 703 L1222 702.7 L1224.1 702.4 L1226.2 702.2 L1228.4 701.9 L1230.5 701.6 L1232.6 701.3 L1234.8 701 L1236.9 700.7 L1239 700.5 L1241.1 700.2 L1243.3 699.9 L1245.4 699.6 L1247.5 699.4 L1249.6 699.1 L1251.8 698.9 L1253.9 698.6 L1256 698.4 L1258.1 698.1 L1260.3 697.9 L1262.4 697.6 L1264.5 697.4 L1266.7 697.2 L1268.8 697 L1270.9 696.9 L1273 696.7 L1275.2 696.5 L1277.3 696.3 L1279.4 696.2 L1281.5 696 L1283.7 695.8 L1285.8 695.6 L1287.9 695.3 L1290.1 695 L1292.2 694.7 L1294.3 694.4 L1296.4 694.1 L1298.6 693.8 L1300.7 693.6 L1302.8 693.3 L1304.9 693 L1307.1 692.7 L1309.2 692.3 L1311.3 691.7 L1313.5 691 L1315.6 690.4 L1317.7 689.8 L1319.8 689.1 L1322 688.5 L1324.1 687.9 L1326.2 687.2 L1328.3 686.6 L1330.5 686 L1332.6 685.3 L1334.7 684.4 L1336.9 683.4 L1339 682.5 L1341.1 681.5 L1343.2 680.5 L1345.4 679.6 L1347.5 678.6 L1349.6 677.6 L1351.7 676.7 L1353.9 675.7 L1356 674.8 L1358.1 673.6 L1360.2 672.4 L1362.4 671.1 L1364.5 669.8 L1366.6 668.6 L1368.8 667.3 L1370.9 666 L1373 664.8 L1375.1 663.5 L1377.3 662.2 L1379.4 661 L1381.5 659.8 L1383.6 659 L1385.8 658.2 L1387.9 657.3 L1390 656.5 L1392.2 655.7 L1394.3 654.9 L1396.4 654.1 L1398.5 653.2 L1400.7 652.4 L1402.8 651.6 L1404.9 650.8 L1407 649.9 L1409.2 649.1 L1411.3 648.6 L1413.4 648.1 L1415.6 647.6 L1417.7 647.1 L1419.8 646.7 L1421.9 646.2 L1424.1 645.7 L1426.2 645.2 L1428.3 644.7 L1430.4 644.2 L1432.6 643.8 L1434.7 643.4 L1436.8 643.1 L1439 642.8 L1441.1 642.5 L1443.2 642.2 L1445.3 641.9 L1447.5 641.6 L1449.6 641.3 L1451.7 641 L1453.8 640.7 L1456 640.4 L1458.1 640.1 L1460.2 639.8 L1462.3 639.4 L1464.5 639.1 L1466.6 638.7 L1468.7 638.4 L1470.9 638 L1473 637.7 L1475.1 637.5 L1477.2 637.4 L1479.4 637.4 L1481.5 637.3 L1483.6 637.2 L1485.7 637.2 L1487.9 637.1 L1490 637.1 L1492.1 637 L1494.3 636.9 L1496.4 636.9 L1498.5 636.8 L1500.6 636.8 L1502.8 636.7 L1504.9 636.6 L1507 636.6 L1509.1 636.5 L1511.3 636.5 L1513.4 636.4 L1515.5 636.3 L1517.7 636.3 L1519.8 636.3 L1521.9 636.2 L1524 636.2 L1526.2 636.2 L1528.3 636.2 L1530.4 636.2 L1532.5 636.1 L1534.7 636.1 L1536.8 636.1 L1538.9 636.1 L1541.1 636 L1543.2 636 L1545.3 636 L1547.4 636 L1549.6 636 L1551.7 635.9 L1553.8 635.9 L1555.9 635.9 L1558.1 635.9 L1560.2 635.8 L1562.3 635.8 L1564.4 635.8 L1566.6 635.8 L1568.7 635.8 L1570.8 635.7 L1573 635.7 L1575.1 635.7 L1577.2 635.7 L1579.3 635.6 L1581.5 635.6 L1583.6 635.6 L1585.7 635.6 L1587.8 635.6 L1590 635.5 L1592.1 635.5 L1594.2 635.5 L1596.4 635.5 L1598.5 635.4 L1600.6 635.4 L1602.7 635.4 L1604.9 635.3 L1607 635.3 L1609.1 635.2 L1611.2 635.2 L1613.4 635.1 L1615.5 635.1 L1617.6 635 L1619.8 635 L1621.9 634.9 L1624 634.8 L1626.1 634.8 L1628.3 634.7 L1630.4 634.7 L1632.5 634.6 L1634.6 634.6 L1636.8 634.5 L1638.9 634.4 L1641 634.2 L1643.2 634 L1645.3 633.9 L1647.4 633.7 L1649.5 633.5 L1651.7 633.4 L1653.8 633.2 L1655.9 632.5 L1658 631.7 L1660.2 630.9 L1662.3 630.1 L1664.4 629.3 L1666.5 628.5 L1668.7 627.7 L1670.8 626.9 L1672.9 625.4 L1675.1 623.8 L1677.2 622.2 L1679.3 620.6 L1681.4 619.1 L1683.6 617.5 L1685.7 615.9 L1687.8 614.4 L1689.9 611.9 L1692.1 609.3 L1694.2 606.6 L1696.3 604 L1698.5 601.3 L1700.6 598.6 L1702.7 596 L1704.8 593.3 L1707 588.7 L1709.1 583.4 L1711.2 578.1 L1713.3 572.8 L1715.5 567.5 L1717.6 562.2 L1719.7 556.9 L1721.9 551.6 L1724 547.2 L1726.1 543.1 L1728.2 539 L1730.4 535 L1732.5 530.9 L1734.6 526.8 L1736.7 522.8 L1738.9 518.7 L1741 514.6 L1743.1 510.8 L1745.3 507.9 L1747.4 505 L1749.5 502.1 L1751.6 499.2 L1753.8 496.3 L1755.9 493.4 L1758 490.6 L1760.1 487.7 L1762.3 484.8 L1764.4 481.9 L1766.5 479 L1768.6 476.1 L1770.8 473.2 L1772.9 470.4 L1775 468.3 L1777.2 466.2 L1779.3 464.1 L1781.4 461.9 L1783.5 459.8 L1785.7 457.7 L1787.8 455.6 L1789.9 453.5 L1792 452.4 L1794.2 451.3 L1796.3 450.2 L1798.4 449.2 L1800.6 448.1 L1802.7 447.1 L1804.8 446 L1806.9 444.9 L1809.1 443.9 L1811.2 442.8 L1813.3 441.7 L1815.4 440.7 L1817.6 439.6 L1819.7 438.6 L1821.8 437.7 L1824 436.8 L1826.1 436 L1828.2 435.1 L1830.3 434.3 L1832.5 433.4 L1834.6 432.6 L1836.7 431.7 L1838.8 430.9 L1841 430 L1843.1 429.4 L1845.2 428.8 L1847.4 428.2 L1849.5 427.6 L1851.6 426.9 L1853.7 426.3 L1855.9 425.7 L1858 425.1 L1860.1 424.5 L1862.2 423.9 L1864.4 423.3 L1866.5 422.7 L1868.6 422.1 L1870.8 421.5 L1872.9 420.8 L1875 420.1 L1877.1 419.5 L1879.3 418.8 L1881.4 418.1 L1883.5 417.5 L1885.6 416.8 L1887.8 416.1 L1889.9 415.5 L1892 414.8 L1894.1 414.1 L1896.3 413.5 L1898.4 412.8 L1900.5 412.1 L1902.7 411.5 L1904.8 410.9 L1906.9 410.2 L1909 409.6 L1911.2 408.9 L1913.3 408.3 L1915.4 407.7 L1917.5 407 L1919.7 406.4 L1921.8 405.8 L1923.9 405.1 L1926.1 404.5 L1928.2 404 L1930.3 403.6 L1932.4 403.3 L1934.6 402.9 L1936.7 402.5 L1938.8 402.2 L1940.9 401.8 L1943.1 401.4 L1945.2 401 L1947.3 400.7 L1949.5 400.3 L1951.6 399.9 L1953.7 399.6 L1955.8 399.2 L1958 398.9 L1960.1 398.6 L1962.2 398.3 L1964.3 398.1 L1966.5 397.8 L1968.6 397.5 L1970.7 397.3 L1972.8 397 L1975 396.7 L1977.1 396.5 L1979.2 396.2 L1981.4 395.9 L1983.5 395.7 L1985.6 395.4 L1987.7 395.1 L1989.9 394.9 L1992 394.6 L1994.1 394.3 L1996.2 394 L1998.4 393.8 L2000.5 393.5 L2002.6 393.2 L2004.8 392.9 L2006.9 392.6 L2009 392.4 L2011.1 392.1 L2013.3 391.8 L2015.4 391.5 L2017.5 391.2 L2019.6 390.6 L2021.8 390.1 L2023.9 389.6 L2026 389 L2028.2 388.5 L2030.3 387.9 L2032.4 387.4 L2034.5 386.6 L2036.7 385.1 L2038.8 383.5 L2040.9 382 L2043 380.4 L2045.2 378.9 L2047.3 377.3 L2049.4 374.7 L2051.6 371.6 L2053.7 368.5 L2055.8 365.3 L2057.9 362.2 L2060.1 359.1 L2062.2 356 L2064.3 352.8 L2066.4 349.7 L2068.6 346.6 L2070.7 343.4 L2072.8 338.8 L2074.9 333.9 L2077.1 329 L2079.2 324.2 L2081.3 319.3 L2083.5 314.4 L2085.6 309.5 L2087.7 304.6 L2089.8 299.7 L2092 294.9 L2094.1 290 L2096.2 285.1 L2098.3 280.2 L2100.5 275.4 L2102.6 270.7 L2104.7 265.9 L2106.9 261.1 L2109 256.3 L2111.1 251.6 L2113.2 246.8 L2115.4 242 L2117.5 237.3 L2119.6 232.5 L2121.7 227.7 L2123.9 222.9 L2126 220.4 L2126 981" fill="none" stroke="#000" stroke-width="1.8" stroke-dasharray="5.2 2.2" stroke-linejoin="round"/>
<path d="M326.6 981 L326.6 975.4 L328.6 975.5 L330.7 975.5 L332.9 975.6 L335 975.7 L337.1 975.7 L339.2 975.8 L341.4 975.9 L343.5 976 L345.6 976 L347.8 976.2 L349.9 976.4 L352 976.5 L354.1 976.7 L356.3 976.8 L358.4 977 L360.5 977.1 L362.6 977.3 L364.8 977.5 L366.9 977.6 L369 977.8 L371.2 977.9 L373.3 978.1 L375.4 978.2 L377.5 978.3 L379.7 978.4 L381.8 978.5 L383.9 978.6 L386 978.8 L388.2 978.9 L390.3 979 L392.4 979.1 L394.6 979.2 L396.7 979.3 L398.8 979.4 L400.9 979.5 L403.1 979.5 L405.2 979.6 L407.3 979.6 L409.4 979.6 L411.6 979.7 L413.7 979.7 L415.8 979.7 L418 979.8 L420.1 979.8 L422.2 979.8 L424.3 979.9 L426.5 979.9 L428.6 979.9 L430.7 980 L432.8 980 L435 980 L437.1 980.1 L439.2 980.1 L441.3 980.1 L443.5 980.1 L445.6 980.1 L447.7 980 L449.9 980 L452 980 L454.1 980 L456.2 980 L458.4 980 L460.5 979.9 L462.6 979.9 L464.7 979.9 L466.9 979.9 L469 979.9 L471.1 979.9 L473.3 979.9 L475.4 979.8 L477.5 979.8 L479.6 979.8 L481.8 979.7 L483.9 979.5 L486 979.4 L488.1 979.2 L490.3 979.1 L492.4 978.9 L494.5 978.8 L496.7 978.6 L498.8 978.5 L500.9 978.3 L503 978.1 L505.2 977.9 L507.3 977.7 L509.4 977.5 L511.5 977.3 L513.7 977.1 L515.8 976.9 L517.9 976.7 L520.1 976.5 L522.2 976.5 L524.3 976.5 L526.4 976.5 L528.6 976.5 L530.7 976.5 L532.8 976.5 L534.9 976.5 L537.1 976.5 L539.2 976.5 L541.3 976.4 L543.5 976.4 L545.6 976.4 L547.7 976.4 L549.8 976.4 L552 976.4 L554.1 976.4 L556.2 976.4 L558.3 976.4 L560.5 976.4 L562.6 976.5 L564.7 976.5 L566.8 976.6 L569 976.6 L571.1 976.7 L573.2 976.7 L575.4 976.8 L577.5 976.8 L579.6 976.9 L581.7 976.9 L583.9 977 L586 977 L588.1 977.1 L590.2 977.2 L592.4 977.2 L594.5 977.3 L596.6 977.3 L598.8 977.4 L600.9 977.4 L603 977.4 L605.1 977.5 L607.3 977.5 L609.4 977.5 L611.5 977.5 L613.6 977.6 L615.8 977.6 L617.9 977.6 L620 977.6 L622.2 977.7 L624.3 977.7 L626.4 977.7 L628.5 977.7 L630.7 977.8 L632.8 977.8 L634.9 977.8 L637 977.8 L639.2 977.9 L641.3 977.9 L643.4 977.9 L645.5 977.9 L647.7 978 L649.8 978 L651.9 978 L654.1 977.9 L656.2 977.9 L658.3 977.8 L660.4 977.8 L662.6 977.7 L664.7 977.7 L666.8 977.7 L668.9 977.6 L671.1 977.6 L673.2 977.5 L675.3 977.5 L677.5 977.5 L679.6 977.4 L681.7 977.4 L683.8 977.3 L686 977.3 L688.1 977.2 L690.2 977.2 L692.3 977.2 L694.5 977.1 L696.6 977.1 L698.7 977 L700.9 977 L703 976.9 L705.1 976.7 L707.2 976.6 L709.4 976.5 L711.5 976.4 L713.6 976.3 L715.7 976.2 L717.9 976.1 L720 976 L722.1 975.8 L724.3 975.6 L726.4 975.4 L728.5 975.1 L730.6 974.9 L732.8 974.7 L734.9 974.5 L737 974.3 L739.1 974.1 L741.3 973.9 L743.4 973.7 L745.5 973.6 L747.6 973.4 L749.8 973.2 L751.9 973 L754 972.9 L756.2 972.7 L758.3 972.5 L760.4 972.4 L762.5 972.2 L764.7 972.1 L766.8 971.9 L768.9 971.8 L771 971.6 L773.2 971.5 L775.3 971.3 L777.4 971.2 L779.6 971 L781.7 970.9 L783.8 970.8 L785.9 970.7 L788.1 970.6 L790.2 970.5 L792.3 970.4 L794.4 970.3 L796.6 970.2 L798.7 970.1 L800.8 970 L803 969.9 L805.1 969.7 L807.2 969.6 L809.3 969.5 L811.5 969.4 L813.6 969.3 L815.7 969.2 L817.8 969.1 L820 969 L822.1 968.9 L824.2 968.7 L826.4 968.6 L828.5 968.4 L830.6 968.3 L832.7 968.2 L834.9 968 L837 967.6 L839.1 967.2 L841.2 966.8 L843.4 966.3 L845.5 965.9 L847.6 965.5 L849.8 965 L851.9 964.7 L854 964.4 L856.1 964.1 L858.3 963.8 L860.4 963.4 L862.5 963.1 L864.6 962.8 L866.8 962.5 L868.9 962.2 L871 962 L873.1 962 L875.3 962 L877.4 962 L879.5 962 L881.7 962 L883.8 962 L885.9 962.2 L888 962.6 L890.2 963 L892.3 963.5 L894.4 963.9 L896.5 964.3 L898.7 964.7 L900.8 965.1 L902.9 965.5 L905.1 965.8 L907.2 966.2 L909.3 966.6 L911.4 966.9 L913.6 967.3 L915.7 967.6 L917.8 968 L919.9 968.3 L922.1 968.7 L924.2 969 L926.3 969.4 L928.5 969.7 L930.6 970.1 L932.7 970.3 L934.8 970.6 L937 970.8 L939.1 971.1 L941.2 971.3 L943.3 971.6 L945.5 971.8 L947.6 972.1 L949.7 972.3 L951.8 972.5 L954 972.8 L956.1 973 L958.2 973.3 L960.4 973.5 L962.5 973.6 L964.6 973.7 L966.7 973.8 L968.9 973.9 L971 973.9 L973.1 974 L975.2 974.1 L977.4 974.2 L979.5 974.3 L981.6 974.4 L983.8 974.5 L985.9 974.5 L988 974.6 L990.1 974.7 L992.3 974.6 L994.4 974.5 L996.5 974.5 L998.6 974.4 L1000.8 974.3 L1002.9 974.2 L1005 974.2 L1007.2 974.1 L1009.3 974 L1011.4 973.9 L1013.5 973.6 L1015.7 973.4 L1017.8 973.2 L1019.9 973 L1022 972.8 L1024.2 972.6 L1026.3 972.4 L1028.4 972.2 L1030.6 971.9 L1032.7 971.7 L1034.8 971.4 L1036.9 971.1 L1039.1 970.9 L1041.2 970.6 L1043.3 970.3 L1045.4 970.1 L1047.6 969.8 L1049.7 969.5 L1051.8 969.2 L1053.9 968.9 L1056.1 968.6 L1058.2 968.3 L1060.3 968 L1062.5 967.7 L1064.6 967.4 L1066.7 967.1 L1068.8 966.8 L1071 966.4 L1073.1 966.1 L1075.2 965.7 L1077.3 965.1 L1079.5 964.5 L1081.6 964 L1083.7 963.4 L1085.9 962.8 L1088 962.3 L1090.1 962 L1092.2 961.7 L1094.4 961.4 L1096.5 961 L1098.6 960.7 L1100.7 960.4 L1102.9 960.1 L1105 959.9 L1107.1 959.6 L1109.3 959.3 L1111.4 959.1 L1113.5 958.8 L1115.6 958.5 L1117.8 958.3 L1119.9 958 L1122 957.8 L1124.1 957.6 L1126.3 957.4 L1128.4 957.2 L1130.5 957 L1132.7 956.8 L1134.8 955.9 L1136.9 954.8 L1139 955.1 L1141.2 955.4 L1143.3 955.6 L1145.4 955.9 L1147.5 956.2 L1149.7 956.5 L1151.8 957 L1153.9 957.5 L1156 958.1 L1158.2 958.7 L1160.3 959.2 L1162.4 959.8 L1164.6 960.4 L1166.7 960.9 L1168.8 961.5 L1170.9 962.1 L1173.1 962.7 L1175.2 963.2 L1177.3 963.8 L1179.4 964.4 L1181.6 964.8 L1183.7 965.3 L1185.8 965.7 L1188 966.2 L1190.1 966.6 L1192.2 967 L1194.3 967.5 L1196.5 967.9 L1198.6 968.3 L1200.7 968.7 L1202.8 969.1 L1205 969.5 L1207.1 969.9 L1209.2 970.3 L1211.4 970.6 L1213.5 970.9 L1215.6 971.1 L1217.7 971.4 L1219.9 971.6 L1222 971.8 L1224.1 972.1 L1226.2 972.3 L1228.4 972.5 L1230.5 972.7 L1232.6 972.8 L1234.8 972.9 L1236.9 973 L1239 973.1 L1241.1 973.1 L1243.3 973.2 L1245.4 973.3 L1247.5 973.4 L1249.6 973.5 L1251.8 973.4 L1253.9 973.2 L1256 973 L1258.1 972.8 L1260.3 972.6 L1262.4 972.4 L1264.5 971.8 L1266.7 971.3 L1268.8 970.7 L1270.9 970.1 L1273 969.5 L1275.2 968.9 L1277.3 968.3 L1279.4 967.7 L1281.5 967.1 L1283.7 966.5 L1285.8 965.9 L1287.9 965 L1290.1 963.2 L1292.2 961.5 L1294.3 959.8 L1296.4 958 L1298.6 956.3 L1300.7 954.5 L1302.8 953.2 L1304.9 952.3 L1307.1 951.4 L1309.2 950.5 L1311.3 949.6 L1313.5 948.7 L1315.6 947.8 L1317.7 946.9 L1319.8 946 L1322 945.1 L1324.1 944.6 L1326.2 944.2 L1328.3 943.8 L1330.5 943.3 L1332.6 942.9 L1334.7 942.5 L1336.9 942.1 L1339 941.6 L1341.1 941.2 L1343.2 940.8 L1345.4 940.2 L1347.5 939.7 L1349.6 939.2 L1351.7 939.2 L1353.9 939.3 L1356 939.3 L1358.1 939.4 L1360.2 939.5 L1362.4 940.7 L1364.5 941.8 L1366.6 943 L1368.8 944.1 L1370.9 945.2 L1373 946.4 L1375.1 947.8 L1377.3 949.2 L1379.4 950.7 L1381.5 952.1 L1383.6 953.3 L1385.8 954.5 L1387.9 955.6 L1390 956.8 L1392.2 958 L1394.3 959.1 L1396.4 959.9 L1398.5 960.8 L1400.7 961.6 L1402.8 962.5 L1404.9 963.7 L1407 965.3 L1409.2 966.8 L1411.3 967.7 L1413.4 967.9 L1415.6 968.3 L1417.7 968.8 L1419.8 969.3 L1421.9 969.8 L1424.1 970.3 L1426.2 970.8 L1428.3 971.3 L1430.4 971.8 L1432.6 972.2 L1434.7 972.5 L1436.8 972.9 L1439 973.3 L1441.1 973.7 L1443.2 974.1 L1445.3 974.4 L1447.5 974.8 L1449.6 975.2 L1451.7 975.6 L1453.8 975.9 L1456 976.3 L1458.1 976.7 L1460.2 977.1 L1462.3 977.4 L1464.5 977.5 L1466.6 977.6 L1468.7 977.7 L1470.9 977.8 L1473 977.9 L1475.1 978.1 L1477.2 978.2 L1479.4 978.3 L1481.5 978.4 L1483.6 978.5 L1485.7 978.6 L1487.9 978.7 L1490 978.8 L1492.1 978.9 L1494.3 979 L1496.4 979.1 L1498.5 979.2 L1500.6 979.3 L1502.8 979.4 L1504.9 979.4 L1507 979.5 L1509.1 979.5 L1511.3 979.5 L1513.4 979.6 L1515.5 979.6 L1517.7 979.6 L1519.8 979.7 L1521.9 979.7 L1524 979.7 L1526.2 979.8 L1528.3 979.8 L1530.4 979.8 L1532.5 979.8 L1534.7 979.9 L1536.8 979.9 L1538.9 979.9 L1541.1 980 L1543.2 980 L1545.3 980 L1547.4 980.1 L1549.6 980.1 L1551.7 980.1 L1553.8 980.1 L1555.9 980.1 L1558.1 980.1 L1560.2 980.1 L1562.3 980.1 L1564.4 980.1 L1566.6 980.1 L1568.7 980.1 L1570.8 980.1 L1573 980.1 L1575.1 980 L1577.2 980 L1579.3 980 L1581.5 980 L1583.6 980 L1585.7 980 L1587.8 980 L1590 980 L1592.1 980 L1594.2 980 L1596.4 980 L1598.5 980 L1600.6 979.9 L1602.7 979.7 L1604.9 979.5 L1607 979.2 L1609.1 979 L1611.2 978.8 L1613.4 978.6 L1615.5 978.3 L1617.6 978.1 L1619.8 977.9 L1621.9 977.6 L1624 977.4 L1626.1 977.2 L1628.3 977 L1630.4 976.8 L1632.5 976.5 L1634.6 976.3 L1636.8 976.1 L1638.9 975.9 L1641 975.7 L1643.2 975.5 L1645.3 975.2 L1647.4 975 L1649.5 974.7 L1651.7 974.4 L1653.8 974.2 L1655.9 973.5 L1658 972.3 L1660.2 971.1 L1662.3 969.9 L1664.4 968.7 L1666.5 967.2 L1668.7 965.7 L1670.8 964.2 L1672.9 962.7 L1675.1 961.5 L1677.2 960.4 L1679.3 959.3 L1681.4 958.3 L1683.6 957.2 L1685.7 956.6 L1687.8 956 L1689.9 955.5 L1692.1 955 L1694.2 954.5 L1696.3 954.2 L1698.5 953.8 L1700.6 953.5 L1702.7 953.2 L1704.8 953 L1707 953 L1709.1 953 L1711.2 953 L1713.3 953 L1715.5 953 L1717.6 953 L1719.7 953 L1721.9 953 L1724 953 L1726.1 953.3 L1728.2 953.6 L1730.4 953.9 L1732.5 954.2 L1734.6 954.5 L1736.7 954.8 L1738.9 955.1 L1741 955.4 L1743.1 955.7 L1745.3 956.1 L1747.4 956.5 L1749.5 956.9 L1751.6 957.3 L1753.8 957.8 L1755.9 958.2 L1758 958.6 L1760.1 959 L1762.3 959.5 L1764.4 959.9 L1766.5 960.3 L1768.6 960.7 L1770.8 961.2 L1772.9 961.6 L1775 962 L1777.2 963.3 L1779.3 964.6 L1781.4 965.4 L1783.5 966.1 L1785.7 966.7 L1787.8 967.3 L1789.9 968 L1792 969.2 L1794.2 970.4 L1796.3 971.5 L1798.4 971.7 L1800.6 971.8 L1802.7 972 L1804.8 972.1 L1806.9 972.3 L1809.1 972.4 L1811.2 972.6 L1813.3 972.8 L1815.4 973 L1817.6 973.3 L1819.7 973.5 L1821.8 973.7 L1824 973.9 L1826.1 974.1 L1828.2 974.3 L1830.3 974.5 L1832.5 974.7 L1834.6 975 L1836.7 975.2 L1838.8 975.4 L1841 975.6 L1843.1 975.7 L1845.2 975.8 L1847.4 976 L1849.5 976.1 L1851.6 976.3 L1853.7 976.4 L1855.9 976.6 L1858 976.7 L1860.1 976.8 L1862.2 977 L1864.4 977.1 L1866.5 977.3 L1868.6 977.4 L1870.8 977.5 L1872.9 977.6 L1875 977.7 L1877.1 977.7 L1879.3 977.8 L1881.4 977.9 L1883.5 978 L1885.6 978 L1887.8 978.1 L1889.9 978.2 L1892 978.2 L1894.1 978.3 L1896.3 978.4 L1898.4 978.4 L1900.5 978.5 L1902.7 978.6 L1904.8 978.6 L1906.9 978.7 L1909 978.7 L1911.2 978.8 L1913.3 978.8 L1915.4 978.8 L1917.5 978.9 L1919.7 978.9 L1921.8 979 L1923.9 979 L1926.1 979.1 L1928.2 979.1 L1930.3 979.2 L1932.4 979.2 L1934.6 979.3 L1936.7 979.3 L1938.8 979.4 L1940.9 979.4 L1943.1 979.4 L1945.2 979.5 L1947.3 979.5 L1949.5 979.5 L1951.6 979.5 L1953.7 979.5 L1955.8 979.6 L1958 979.6 L1960.1 979.6 L1962.2 979.6 L1964.3 979.6 L1966.5 979.7 L1968.6 979.7 L1970.7 979.7 L1972.8 979.7 L1975 979.7 L1977.1 979.8 L1979.2 979.8 L1981.4 979.8 L1983.5 979.8 L1985.6 979.7 L1987.7 979.7 L1989.9 979.7 L1992 979.7 L1994.1 979.7 L1996.2 979.6 L1998.4 979.6 L2000.5 979.6 L2002.6 979.6 L2004.8 979.6 L2006.9 979.5 L2009 979.5 L2011.1 979.4 L2013.3 979.3 L2015.4 979.2 L2017.5 979.1 L2019.6 979 L2021.8 978.9 L2023.9 978.8 L2026 978.7 L2028.2 978.6 L2030.3 978.5 L2032.4 978.1 L2034.5 977.7 L2036.7 977.4 L2038.8 977 L2040.9 976.7 L2043 976.3 L2045.2 976 L2047.3 975.4 L2049.4 974.8 L2051.6 974.3 L2053.7 973.7 L2055.8 973.1 L2057.9 972.6 L2060.1 972 L2062.2 971.6 L2064.3 971.3 L2066.4 970.9 L2068.6 970.6 L2070.7 970.2 L2072.8 969.9 L2074.9 969.5 L2077.1 969.5 L2079.2 969.6 L2081.3 969.6 L2083.5 969.6 L2085.6 969.6 L2087.7 969.7 L2089.8 969.7 L2092 969.6 L2094.1 969.6 L2096.2 969.5 L2098.3 969.4 L2100.5 969.3 L2102.6 969.3 L2104.7 969.2 L2106.9 969.1 L2109 969 L2111.1 969.1 L2113.2 969.2 L2115.4 969.3 L2117.5 969.4 L2119.6 969.5 L2121.7 970.4 L2123.9 971.4 L2126 972.5 L2126 981 Z" fill="#70ad47"/>
<clipPath id="cp"><rect x="0" y="0" width="2210" height="981.4"/></clipPath>
<path d="M326.6 981 L326.6 975.4 L328.6 975.5 L330.7 975.5 L332.9 975.6 L335 975.7 L337.1 975.7 L339.2 975.8 L341.4 975.9 L343.5 976 L345.6 976 L347.8 976.2 L349.9 976.4 L352 976.5 L354.1 976.7 L356.3 976.8 L358.4 977 L360.5 977.1 L362.6 977.3 L364.8 977.5 L366.9 977.6 L369 977.8 L371.2 977.9 L373.3 978.1 L375.4 978.2 L377.5 978.3 L379.7 978.4 L381.8 978.5 L383.9 978.6 L386 978.8 L388.2 978.9 L390.3 979 L392.4 979.1 L394.6 979.2 L396.7 979.3 L398.8 979.4 L400.9 979.5 L403.1 979.5 L405.2 979.6 L407.3 979.6 L409.4 979.6 L411.6 979.7 L413.7 979.7 L415.8 979.7 L418 979.8 L420.1 979.8 L422.2 979.8 L424.3 979.9 L426.5 979.9 L428.6 979.9 L430.7 980 L432.8 980 L435 980 L437.1 980.1 L439.2 980.1 L441.3 980.1 L443.5 980.1 L445.6 980.1 L447.7 980 L449.9 980 L452 980 L454.1 980 L456.2 980 L458.4 980 L460.5 979.9 L462.6 979.9 L464.7 979.9 L466.9 979.9 L469 979.9 L471.1 979.9 L473.3 979.9 L475.4 979.8 L477.5 979.8 L479.6 979.8 L481.8 979.7 L483.9 979.5 L486 979.4 L488.1 979.2 L490.3 979.1 L492.4 978.9 L494.5 978.8 L496.7 978.6 L498.8 978.5 L500.9 978.3 L503 978.1 L505.2 977.9 L507.3 977.7 L509.4 977.5 L511.5 977.3 L513.7 977.1 L515.8 976.9 L517.9 976.7 L520.1 976.5 L522.2 976.5 L524.3 976.5 L526.4 976.5 L528.6 976.5 L530.7 976.5 L532.8 976.5 L534.9 976.5 L537.1 976.5 L539.2 976.5 L541.3 976.4 L543.5 976.4 L545.6 976.4 L547.7 976.4 L549.8 976.4 L552 976.4 L554.1 976.4 L556.2 976.4 L558.3 976.4 L560.5 976.4 L562.6 976.5 L564.7 976.5 L566.8 976.6 L569 976.6 L571.1 976.7 L573.2 976.7 L575.4 976.8 L577.5 976.8 L579.6 976.9 L581.7 976.9 L583.9 977 L586 977 L588.1 977.1 L590.2 977.2 L592.4 977.2 L594.5 977.3 L596.6 977.3 L598.8 977.4 L600.9 977.4 L603 977.4 L605.1 977.5 L607.3 977.5 L609.4 977.5 L611.5 977.5 L613.6 977.6 L615.8 977.6 L617.9 977.6 L620 977.6 L622.2 977.7 L624.3 977.7 L626.4 977.7 L628.5 977.7 L630.7 977.8 L632.8 977.8 L634.9 977.8 L637 977.8 L639.2 977.9 L641.3 977.9 L643.4 977.9 L645.5 977.9 L647.7 978 L649.8 978 L651.9 978 L654.1 977.9 L656.2 977.9 L658.3 977.8 L660.4 977.8 L662.6 977.7 L664.7 977.7 L666.8 977.7 L668.9 977.6 L671.1 977.6 L673.2 977.5 L675.3 977.5 L677.5 977.5 L679.6 977.4 L681.7 977.4 L683.8 977.3 L686 977.3 L688.1 977.2 L690.2 977.2 L692.3 977.2 L694.5 977.1 L696.6 977.1 L698.7 977 L700.9 977 L703 976.9 L705.1 976.7 L707.2 976.6 L709.4 976.5 L711.5 976.4 L713.6 976.3 L715.7 976.2 L717.9 976.1 L720 976 L722.1 975.8 L724.3 975.6 L726.4 975.4 L728.5 975.1 L730.6 974.9 L732.8 974.7 L734.9 974.5 L737 974.3 L739.1 974.1 L741.3 973.9 L743.4 973.7 L745.5 973.6 L747.6 973.4 L749.8 973.2 L751.9 973 L754 972.9 L756.2 972.7 L758.3 972.5 L760.4 972.4 L762.5 972.2 L764.7 972.1 L766.8 971.9 L768.9 971.8 L771 971.6 L773.2 971.5 L775.3 971.3 L777.4 971.2 L779.6 971 L781.7 970.9 L783.8 970.8 L785.9 970.7 L788.1 970.6 L790.2 970.5 L792.3 970.4 L794.4 970.3 L796.6 970.2 L798.7 970.1 L800.8 970 L803 969.9 L805.1 969.7 L807.2 969.6 L809.3 969.5 L811.5 969.4 L813.6 969.3 L815.7 969.2 L817.8 969.1 L820 969 L822.1 968.9 L824.2 968.7 L826.4 968.6 L828.5 968.4 L830.6 968.3 L832.7 968.2 L834.9 968 L837 967.6 L839.1 967.2 L841.2 966.8 L843.4 966.3 L845.5 965.9 L847.6 965.5 L849.8 965 L851.9 964.7 L854 964.4 L856.1 964.1 L858.3 963.8 L860.4 963.4 L862.5 963.1 L864.6 962.8 L866.8 962.5 L868.9 962.2 L871 962 L873.1 962 L875.3 962 L877.4 962 L879.5 962 L881.7 962 L883.8 962 L885.9 962.2 L888 962.6 L890.2 963 L892.3 963.5 L894.4 963.9 L896.5 964.3 L898.7 964.7 L900.8 965.1 L902.9 965.5 L905.1 965.8 L907.2 966.2 L909.3 966.6 L911.4 966.9 L913.6 967.3 L915.7 967.6 L917.8 968 L919.9 968.3 L922.1 968.7 L924.2 969 L926.3 969.4 L928.5 969.7 L930.6 970.1 L932.7 970.3 L934.8 970.6 L937 970.8 L939.1 971.1 L941.2 971.3 L943.3 971.6 L945.5 971.8 L947.6 972.1 L949.7 972.3 L951.8 972.5 L954 972.8 L956.1 973 L958.2 973.3 L960.4 973.5 L962.5 973.6 L964.6 973.7 L966.7 973.8 L968.9 973.9 L971 973.9 L973.1 974 L975.2 974.1 L977.4 974.2 L979.5 974.3 L981.6 974.4 L983.8 974.5 L985.9 974.5 L988 974.6 L990.1 974.7 L992.3 974.6 L994.4 974.5 L996.5 974.5 L998.6 974.4 L1000.8 974.3 L1002.9 974.2 L1005 974.2 L1007.2 974.1 L1009.3 974 L1011.4 973.9 L1013.5 973.6 L1015.7 973.4 L1017.8 973.2 L1019.9 973 L1022 972.8 L1024.2 972.6 L1026.3 972.4 L1028.4 972.2 L1030.6 971.9 L1032.7 971.7 L1034.8 971.4 L1036.9 971.1 L1039.1 970.9 L1041.2 970.6 L1043.3 970.3 L1045.4 970.1 L1047.6 969.8 L1049.7 969.5 L1051.8 969.2 L1053.9 968.9 L1056.1 968.6 L1058.2 968.3 L1060.3 968 L1062.5 967.7 L1064.6 967.4 L1066.7 967.1 L1068.8 966.8 L1071 966.4 L1073.1 966.1 L1075.2 965.7 L1077.3 965.1 L1079.5 964.5 L1081.6 964 L1083.7 963.4 L1085.9 962.8 L1088 962.3 L1090.1 962 L1092.2 961.7 L1094.4 961.4 L1096.5 961 L1098.6 960.7 L1100.7 960.4 L1102.9 960.1 L1105 959.9 L1107.1 959.6 L1109.3 959.3 L1111.4 959.1 L1113.5 958.8 L1115.6 958.5 L1117.8 958.3 L1119.9 958 L1122 957.8 L1124.1 957.6 L1126.3 957.4 L1128.4 957.2 L1130.5 957 L1132.7 956.8 L1134.8 955.9 L1136.9 954.8 L1139 955.1 L1141.2 955.4 L1143.3 955.6 L1145.4 955.9 L1147.5 956.2 L1149.7 956.5 L1151.8 957 L1153.9 957.5 L1156 958.1 L1158.2 958.7 L1160.3 959.2 L1162.4 959.8 L1164.6 960.4 L1166.7 960.9 L1168.8 961.5 L1170.9 962.1 L1173.1 962.7 L1175.2 963.2 L1177.3 963.8 L1179.4 964.4 L1181.6 964.8 L1183.7 965.3 L1185.8 965.7 L1188 966.2 L1190.1 966.6 L1192.2 967 L1194.3 967.5 L1196.5 967.9 L1198.6 968.3 L1200.7 968.7 L1202.8 969.1 L1205 969.5 L1207.1 969.9 L1209.2 970.3 L1211.4 970.6 L1213.5 970.9 L1215.6 971.1 L1217.7 971.4 L1219.9 971.6 L1222 971.8 L1224.1 972.1 L1226.2 972.3 L1228.4 972.5 L1230.5 972.7 L1232.6 972.8 L1234.8 972.9 L1236.9 973 L1239 973.1 L1241.1 973.1 L1243.3 973.2 L1245.4 973.3 L1247.5 973.4 L1249.6 973.5 L1251.8 973.4 L1253.9 973.2 L1256 973 L1258.1 972.8 L1260.3 972.6 L1262.4 972.4 L1264.5 971.8 L1266.7 971.3 L1268.8 970.7 L1270.9 970.1 L1273 969.5 L1275.2 968.9 L1277.3 968.3 L1279.4 967.7 L1281.5 967.1 L1283.7 966.5 L1285.8 965.9 L1287.9 965 L1290.1 963.2 L1292.2 961.5 L1294.3 959.8 L1296.4 958 L1298.6 956.3 L1300.7 954.5 L1302.8 953.2 L1304.9 952.3 L1307.1 951.4 L1309.2 950.5 L1311.3 949.6 L1313.5 948.7 L1315.6 947.8 L1317.7 946.9 L1319.8 946 L1322 945.1 L1324.1 944.6 L1326.2 944.2 L1328.3 943.8 L1330.5 943.3 L1332.6 942.9 L1334.7 942.5 L1336.9 942.1 L1339 941.6 L1341.1 941.2 L1343.2 940.8 L1345.4 940.2 L1347.5 939.7 L1349.6 939.2 L1351.7 939.2 L1353.9 939.3 L1356 939.3 L1358.1 939.4 L1360.2 939.5 L1362.4 940.7 L1364.5 941.8 L1366.6 943 L1368.8 944.1 L1370.9 945.2 L1373 946.4 L1375.1 947.8 L1377.3 949.2 L1379.4 950.7 L1381.5 952.1 L1383.6 953.3 L1385.8 954.5 L1387.9 955.6 L1390 956.8 L1392.2 958 L1394.3 959.1 L1396.4 959.9 L1398.5 960.8 L1400.7 961.6 L1402.8 962.5 L1404.9 963.7 L1407 965.3 L1409.2 966.8 L1411.3 967.7 L1413.4 967.9 L1415.6 968.3 L1417.7 968.8 L1419.8 969.3 L1421.9 969.8 L1424.1 970.3 L1426.2 970.8 L1428.3 971.3 L1430.4 971.8 L1432.6 972.2 L1434.7 972.5 L1436.8 972.9 L1439 973.3 L1441.1 973.7 L1443.2 974.1 L1445.3 974.4 L1447.5 974.8 L1449.6 975.2 L1451.7 975.6 L1453.8 975.9 L1456 976.3 L1458.1 976.7 L1460.2 977.1 L1462.3 977.4 L1464.5 977.5 L1466.6 977.6 L1468.7 977.7 L1470.9 977.8 L1473 977.9 L1475.1 978.1 L1477.2 978.2 L1479.4 978.3 L1481.5 978.4 L1483.6 978.5 L1485.7 978.6 L1487.9 978.7 L1490 978.8 L1492.1 978.9 L1494.3 979 L1496.4 979.1 L1498.5 979.2 L1500.6 979.3 L1502.8 979.4 L1504.9 979.4 L1507 979.5 L1509.1 979.5 L1511.3 979.5 L1513.4 979.6 L1515.5 979.6 L1517.7 979.6 L1519.8 979.7 L1521.9 979.7 L1524 979.7 L1526.2 979.8 L1528.3 979.8 L1530.4 979.8 L1532.5 979.8 L1534.7 979.9 L1536.8 979.9 L1538.9 979.9 L1541.1 980 L1543.2 980 L1545.3 980 L1547.4 980.1 L1549.6 980.1 L1551.7 980.1 L1553.8 980.1 L1555.9 980.1 L1558.1 980.1 L1560.2 980.1 L1562.3 980.1 L1564.4 980.1 L1566.6 980.1 L1568.7 980.1 L1570.8 980.1 L1573 980.1 L1575.1 980 L1577.2 980 L1579.3 980 L1581.5 980 L1583.6 980 L1585.7 980 L1587.8 980 L1590 980 L1592.1 980 L1594.2 980 L1596.4 980 L1598.5 980 L1600.6 979.9 L1602.7 979.7 L1604.9 979.5 L1607 979.2 L1609.1 979 L1611.2 978.8 L1613.4 978.6 L1615.5 978.3 L1617.6 978.1 L1619.8 977.9 L1621.9 977.6 L1624 977.4 L1626.1 977.2 L1628.3 977 L1630.4 976.8 L1632.5 976.5 L1634.6 976.3 L1636.8 976.1 L1638.9 975.9 L1641 975.7 L1643.2 975.5 L1645.3 975.2 L1647.4 975 L1649.5 974.7 L1651.7 974.4 L1653.8 974.2 L1655.9 973.5 L1658 972.3 L1660.2 971.1 L1662.3 969.9 L1664.4 968.7 L1666.5 967.2 L1668.7 965.7 L1670.8 964.2 L1672.9 962.7 L1675.1 961.5 L1677.2 960.4 L1679.3 959.3 L1681.4 958.3 L1683.6 957.2 L1685.7 956.6 L1687.8 956 L1689.9 955.5 L1692.1 955 L1694.2 954.5 L1696.3 954.2 L1698.5 953.8 L1700.6 953.5 L1702.7 953.2 L1704.8 953 L1707 953 L1709.1 953 L1711.2 953 L1713.3 953 L1715.5 953 L1717.6 953 L1719.7 953 L1721.9 953 L1724 953 L1726.1 953.3 L1728.2 953.6 L1730.4 953.9 L1732.5 954.2 L1734.6 954.5 L1736.7 954.8 L1738.9 955.1 L1741 955.4 L1743.1 955.7 L1745.3 956.1 L1747.4 956.5 L1749.5 956.9 L1751.6 957.3 L1753.8 957.8 L1755.9 958.2 L1758 958.6 L1760.1 959 L1762.3 959.5 L1764.4 959.9 L1766.5 960.3 L1768.6 960.7 L1770.8 961.2 L1772.9 961.6 L1775 962 L1777.2 963.3 L1779.3 964.6 L1781.4 965.4 L1783.5 966.1 L1785.7 966.7 L1787.8 967.3 L1789.9 968 L1792 969.2 L1794.2 970.4 L1796.3 971.5 L1798.4 971.7 L1800.6 971.8 L1802.7 972 L1804.8 972.1 L1806.9 972.3 L1809.1 972.4 L1811.2 972.6 L1813.3 972.8 L1815.4 973 L1817.6 973.3 L1819.7 973.5 L1821.8 973.7 L1824 973.9 L1826.1 974.1 L1828.2 974.3 L1830.3 974.5 L1832.5 974.7 L1834.6 975 L1836.7 975.2 L1838.8 975.4 L1841 975.6 L1843.1 975.7 L1845.2 975.8 L1847.4 976 L1849.5 976.1 L1851.6 976.3 L1853.7 976.4 L1855.9 976.6 L1858 976.7 L1860.1 976.8 L1862.2 977 L1864.4 977.1 L1866.5 977.3 L1868.6 977.4 L1870.8 977.5 L1872.9 977.6 L1875 977.7 L1877.1 977.7 L1879.3 977.8 L1881.4 977.9 L1883.5 978 L1885.6 978 L1887.8 978.1 L1889.9 978.2 L1892 978.2 L1894.1 978.3 L1896.3 978.4 L1898.4 978.4 L1900.5 978.5 L1902.7 978.6 L1904.8 978.6 L1906.9 978.7 L1909 978.7 L1911.2 978.8 L1913.3 978.8 L1915.4 978.8 L1917.5 978.9 L1919.7 978.9 L1921.8 979 L1923.9 979 L1926.1 979.1 L1928.2 979.1 L1930.3 979.2 L1932.4 979.2 L1934.6 979.3 L1936.7 979.3 L1938.8 979.4 L1940.9 979.4 L1943.1 979.4 L1945.2 979.5 L1947.3 979.5 L1949.5 979.5 L1951.6 979.5 L1953.7 979.5 L1955.8 979.6 L1958 979.6 L1960.1 979.6 L1962.2 979.6 L1964.3 979.6 L1966.5 979.7 L1968.6 979.7 L1970.7 979.7 L1972.8 979.7 L1975 979.7 L1977.1 979.8 L1979.2 979.8 L1981.4 979.8 L1983.5 979.8 L1985.6 979.7 L1987.7 979.7 L1989.9 979.7 L1992 979.7 L1994.1 979.7 L1996.2 979.6 L1998.4 979.6 L2000.5 979.6 L2002.6 979.6 L2004.8 979.6 L2006.9 979.5 L2009 979.5 L2011.1 979.4 L2013.3 979.3 L2015.4 979.2 L2017.5 979.1 L2019.6 979 L2021.8 978.9 L2023.9 978.8 L2026 978.7 L2028.2 978.6 L2030.3 978.5 L2032.4 978.1 L2034.5 977.7 L2036.7 977.4 L2038.8 977 L2040.9 976.7 L2043 976.3 L2045.2 976 L2047.3 975.4 L2049.4 974.8 L2051.6 974.3 L2053.7 973.7 L2055.8 973.1 L2057.9 972.6 L2060.1 972 L2062.2 971.6 L2064.3 971.3 L2066.4 970.9 L2068.6 970.6 L2070.7 970.2 L2072.8 969.9 L2074.9 969.5 L2077.1 969.5 L2079.2 969.6 L2081.3 969.6 L2083.5 969.6 L2085.6 969.6 L2087.7 969.7 L2089.8 969.7 L2092 969.6 L2094.1 969.6 L2096.2 969.5 L2098.3 969.4 L2100.5 969.3 L2102.6 969.3 L2104.7 969.2 L2106.9 969.1 L2109 969 L2111.1 969.1 L2113.2 969.2 L2115.4 969.3 L2117.5 969.4 L2119.6 969.5 L2121.7 970.4 L2123.9 971.4 L2126 972.5 L2126 981 Z" fill="none" stroke="#00b050" stroke-width="2" stroke-linejoin="round" clip-path="url(#cp)"/>
<path d="M268.4 629V976" stroke="#2b2b2b" stroke-width="1.05" fill="none"/>
<path d="M276.3 430.3V976" stroke="#2b2b2b" stroke-width="1.05" fill="none"/>
<path d="M287.4 625.5V976" stroke="#2b2b2b" stroke-width="1.05" fill="none"/>
<path d="M318.5 397.7V977" stroke="#2b2b2b" stroke-width="1.05" fill="none"/>
<path d="M339.2 647.5V978" stroke="#2b2b2b" stroke-width="1.05" fill="none"/>
<path d="M857 631.7V979" stroke="#6e6e6e" stroke-width="1.9" fill="none"/>
<path d="M878.3 631.7V979" stroke="#2b2b2b" stroke-width="1.05" fill="none"/>
<path d="M888 413.8V979" stroke="#6e6e6e" stroke-width="1.9" fill="none"/>
<path d="M929.3 413.2V979" stroke="#2b2b2b" stroke-width="1.05" fill="none"/>
<path d="M985.9 629.6V977" stroke="#2b2b2b" stroke-width="1.05" fill="none"/>
<rect x="1032" y="199.5" width="380.8" height="786.3" fill="#dae9f9" fill-opacity="0.48"/>
<rect x="1628.4" y="199.4" width="146.2" height="775.6" fill="#dae9f9" fill-opacity="0.48"/>
<rect x="264" y="119.5" width="109" height="861.5" fill="#f9c6c6" fill-opacity="0.35"/>
<rect x="847" y="119.7" width="147.9" height="861.3" fill="#f9c6c6" fill-opacity="0.35"/>
<rect x="1074.2" y="122.2" width="117.8" height="858.5" fill="#f9c6c6" fill-opacity="0.35"/>
<rect x="1245.9" y="120.2" width="163.8" height="841.5" fill="#f9c6c6" fill-opacity="0.35"/>
<path d="M260.3 119.2H378.6 M378.6 119.2l-8 -4.4 M378.6 119.2l-8 4.4 M260.3 119.2l8 -4.4 M260.3 119.2l8 4.4" stroke="#404040" stroke-width="1" fill="none"/>
<path d="M843.2 118.9H993.6 M993.6 118.9l-8 -4.4 M993.6 118.9l-8 4.4 M843.2 118.9l8 -4.4 M843.2 118.9l8 4.4" stroke="#404040" stroke-width="1" fill="none"/>
<path d="M1068.4 122H1195.6 M1195.6 122l-8 -4.4 M1195.6 122l-8 4.4 M1068.4 122l8 -4.4 M1068.4 122l8 4.4" stroke="#404040" stroke-width="1" fill="none"/>
<path d="M1242 119.4H1409.5 M1409.5 119.4l-8 -4.4 M1409.5 119.4l-8 4.4 M1242 119.4l8 -4.4 M1242 119.4l8 4.4" stroke="#404040" stroke-width="1" fill="none"/>
<path d="M1027.4 197H1420.7 M1420.7 197l-8 -4.4 M1420.7 197l-8 4.4 M1027.4 197l8 -4.4 M1027.4 197l8 4.4" stroke="#404040" stroke-width="1" fill="none"/>
<path d="M1627 198.5H1775.6 M1775.6 198.5l-8 -4.4 M1775.6 198.5l-8 4.4 M1627 198.5l8 -4.4 M1627 198.5l8 4.4" stroke="#404040" stroke-width="1" fill="none"/>
<path d="M84 631.1V974.5" stroke="#8f959b" stroke-width="1.9" fill="none"/>
<path d="M147.5 627.6V975" stroke="#555555" stroke-width="1.05" fill="none"/>
<path d="M178.4 449.8V975" stroke="#555555" stroke-width="1.05" fill="none"/>
<path d="M211.6 450V976" stroke="#555555" stroke-width="1.05" fill="none"/>
<path d="M416.6 399.9V978" stroke="#555555" stroke-width="1.05" fill="none"/>
<path d="M454.4 629.6V978" stroke="#555555" stroke-width="1.05" fill="none"/>
<path d="M498.3 629.6V978" stroke="#555555" stroke-width="1.05" fill="none"/>
<path d="M535.1 627.6V976" stroke="#555555" stroke-width="1.05" fill="none"/>
<path d="M573.4 394.5V975" stroke="#555555" stroke-width="1.05" fill="none"/>
<path d="M610.7 396V976" stroke="#555555" stroke-width="1.05" fill="none"/>
<path d="M635.7 396V976" stroke="#555555" stroke-width="1.05" fill="none"/>
<path d="M657.3 397.7V978" stroke="#555555" stroke-width="1.05" fill="none"/>
<path d="M671.6 467.2V978" stroke="#555555" stroke-width="1.05" fill="none"/>
<path d="M709.5 674.1V975" stroke="#555555" stroke-width="1.05" fill="none"/>
<path d="M724.6 456.6V977" stroke="#555555" stroke-width="1.05" fill="none"/>
<path d="M738.3 456.6V978" stroke="#555555" stroke-width="1.05" fill="none"/>
<path d="M779.8 457.7V979" stroke="#555555" stroke-width="1.05" fill="none"/>
<path d="M799.7 457.7V979" stroke="#555555" stroke-width="1.05" fill="none"/>
<path d="M828.6 631.7V979" stroke="#555555" stroke-width="1.05" fill="none"/>
<path d="M1031 414.9V980.7" stroke="#8f959b" stroke-width="1.9" fill="none"/>
<path d="M1037.1 630.5V979.5" stroke="#555555" stroke-width="1.05" fill="none"/>
<path d="M1050.3 413.8V979.5" stroke="#555555" stroke-width="1.05" fill="none"/>
<path d="M1089.4 629.6V978" stroke="#555555" stroke-width="1.05" fill="none"/>
<path d="M1130.5 439V973.4" stroke="#555555" stroke-width="1.05" fill="none"/>
<path d="M1150.5 414.9V978" stroke="#555555" stroke-width="1.05" fill="none"/>
<path d="M1176.5 630V978" stroke="#555555" stroke-width="1.05" fill="none"/>
<path d="M1193.5 414.4V979.5" stroke="#555555" stroke-width="1.05" fill="none"/>
<path d="M1265.6 429.4V978" stroke="#555555" stroke-width="1.05" fill="none"/>
<path d="M1288.5 413.8V979" stroke="#555555" stroke-width="1.05" fill="none"/>
<path d="M1297.7 638.2V979" stroke="#555555" stroke-width="1.05" fill="none"/>
<path d="M1308.8 413.8V979" stroke="#555555" stroke-width="1.05" fill="none"/>
<path d="M1347.5 626V977" stroke="#555555" stroke-width="1.05" fill="none"/>
<path d="M1364.3 627.6V977" stroke="#555555" stroke-width="1.05" fill="none"/>
<path d="M1372.6 410.6V977" stroke="#555555" stroke-width="1.05" fill="none"/>
<path d="M1463.4 418.8V978" stroke="#555555" stroke-width="1.05" fill="none"/>
<path d="M1475.9 688V975" stroke="#555555" stroke-width="1.05" fill="none"/>
<path d="M1524.4 651.7V979" stroke="#555555" stroke-width="1.05" fill="none"/>
<path d="M1536.2 629.4V979" stroke="#555555" stroke-width="1.05" fill="none"/>
<path d="M1548.2 413.7V979" stroke="#555555" stroke-width="1.05" fill="none"/>
<path d="M1578.7 446.1V979" stroke="#555555" stroke-width="1.05" fill="none"/>
<path d="M1591.9 446.1V977" stroke="#555555" stroke-width="1.05" fill="none"/>
<path d="M1644.6 661V979" stroke="#555555" stroke-width="1.05" fill="none"/>
<path d="M1665.9 411.9V977" stroke="#8f959b" stroke-width="1.9" fill="none"/>
<path d="M1694.5 480.6V979" stroke="#555555" stroke-width="1.05" fill="none"/>
<path d="M1720.6 632V979" stroke="#555555" stroke-width="1.05" fill="none"/>
<path d="M1821.4 416.5V979" stroke="#555555" stroke-width="1.05" fill="none"/>
<path d="M1839.3 446.3V977" stroke="#555555" stroke-width="1.05" fill="none"/>
<path d="M1900.3 413V973" stroke="#555555" stroke-width="1.05" fill="none"/>
<path d="M1914.4 413V977" stroke="#555555" stroke-width="1.05" fill="none"/>
<path d="M1970.6 667V978" stroke="#555555" stroke-width="1.05" fill="none"/>
<path d="M2014.4 427.7V975" stroke="#555555" stroke-width="1.05" fill="none"/>
<path d="M2041 432V976" stroke="#8f959b" stroke-width="1.9" fill="none"/>
<path d="M2052.9 446.8V977" stroke="#555555" stroke-width="1.05" fill="none"/>
<path d="M2066.2 411.9V975" stroke="#555555" stroke-width="1.05" fill="none"/>
<path d="M2102.6 447.2V976" stroke="#555555" stroke-width="1.05" fill="none"/>
<path d="M79.4 967.3l4.6 7.2l4.6 -7.2" stroke="#1a1a1a" stroke-width="1" fill="none"/>
<path d="M142.9 967.8l4.6 7.2l4.6 -7.2" stroke="#1a1a1a" stroke-width="1" fill="none"/>
<path d="M173.8 967.8l4.6 7.2l4.6 -7.2" stroke="#1a1a1a" stroke-width="1" fill="none"/>
<path d="M207 968.8l4.6 7.2l4.6 -7.2" stroke="#1a1a1a" stroke-width="1" fill="none"/>
<path d="M263.8 968.8l4.6 7.2l4.6 -7.2" stroke="#1a1a1a" stroke-width="1" fill="none"/>
<path d="M271.7 968.8l4.6 7.2l4.6 -7.2" stroke="#1a1a1a" stroke-width="1" fill="none"/>
<path d="M282.8 968.8l4.6 7.2l4.6 -7.2" stroke="#1a1a1a" stroke-width="1" fill="none"/>
<path d="M313.9 969.8l4.6 7.2l4.6 -7.2" stroke="#1a1a1a" stroke-width="1" fill="none"/>
<path d="M334.6 970.8l4.6 7.2l4.6 -7.2" stroke="#1a1a1a" stroke-width="1" fill="none"/>
<path d="M412 970.8l4.6 7.2l4.6 -7.2" stroke="#1a1a1a" stroke-width="1" fill="none"/>
<path d="M449.8 970.8l4.6 7.2l4.6 -7.2" stroke="#1a1a1a" stroke-width="1" fill="none"/>
<path d="M493.7 970.8l4.6 7.2l4.6 -7.2" stroke="#1a1a1a" stroke-width="1" fill="none"/>
<path d="M530.5 968.8l4.6 7.2l4.6 -7.2" stroke="#1a1a1a" stroke-width="1" fill="none"/>
<path d="M568.8 967.8l4.6 7.2l4.6 -7.2" stroke="#1a1a1a" stroke-width="1" fill="none"/>
<path d="M606.1 968.8l4.6 7.2l4.6 -7.2" stroke="#1a1a1a" stroke-width="1" fill="none"/>
<path d="M631.1 968.8l4.6 7.2l4.6 -7.2" stroke="#1a1a1a" stroke-width="1" fill="none"/>
<path d="M652.7 970.8l4.6 7.2l4.6 -7.2" stroke="#1a1a1a" stroke-width="1" fill="none"/>
<path d="M667 970.8l4.6 7.2l4.6 -7.2" stroke="#1a1a1a" stroke-width="1" fill="none"/>
<path d="M704.9 967.8l4.6 7.2l4.6 -7.2" stroke="#1a1a1a" stroke-width="1" fill="none"/>
<path d="M720 969.8l4.6 7.2l4.6 -7.2" stroke="#1a1a1a" stroke-width="1" fill="none"/>
<path d="M733.7 970.8l4.6 7.2l4.6 -7.2" stroke="#1a1a1a" stroke-width="1" fill="none"/>
<path d="M775.2 971.8l4.6 7.2l4.6 -7.2" stroke="#1a1a1a" stroke-width="1" fill="none"/>
<path d="M795.1 971.8l4.6 7.2l4.6 -7.2" stroke="#1a1a1a" stroke-width="1" fill="none"/>
<path d="M824 971.8l4.6 7.2l4.6 -7.2" stroke="#1a1a1a" stroke-width="1" fill="none"/>
<path d="M852.4 971.8l4.6 7.2l4.6 -7.2" stroke="#1a1a1a" stroke-width="1" fill="none"/>
<path d="M873.7 971.8l4.6 7.2l4.6 -7.2" stroke="#1a1a1a" stroke-width="1" fill="none"/>
<path d="M883.4 971.8l4.6 7.2l4.6 -7.2" stroke="#1a1a1a" stroke-width="1" fill="none"/>
<path d="M924.7 971.8l4.6 7.2l4.6 -7.2" stroke="#1a1a1a" stroke-width="1" fill="none"/>
<path d="M981.3 969.8l4.6 7.2l4.6 -7.2" stroke="#1a1a1a" stroke-width="1" fill="none"/>
<path d="M1026.4 973.5l4.6 7.2l4.6 -7.2" stroke="#1a1a1a" stroke-width="1" fill="none"/>
<path d="M1032.5 972.3l4.6 7.2l4.6 -7.2" stroke="#1a1a1a" stroke-width="1" fill="none"/>
<path d="M1045.7 972.3l4.6 7.2l4.6 -7.2" stroke="#1a1a1a" stroke-width="1" fill="none"/>
<path d="M1084.8 970.8l4.6 7.2l4.6 -7.2" stroke="#1a1a1a" stroke-width="1" fill="none"/>
<path d="M1125.9 966.2l4.6 7.2l4.6 -7.2" stroke="#1a1a1a" stroke-width="1" fill="none"/>
<path d="M1145.9 970.8l4.6 7.2l4.6 -7.2" stroke="#1a1a1a" stroke-width="1" fill="none"/>
<path d="M1171.9 970.8l4.6 7.2l4.6 -7.2" stroke="#1a1a1a" stroke-width="1" fill="none"/>
<path d="M1188.9 972.3l4.6 7.2l4.6 -7.2" stroke="#1a1a1a" stroke-width="1" fill="none"/>
<path d="M1261 970.8l4.6 7.2l4.6 -7.2" stroke="#1a1a1a" stroke-width="1" fill="none"/>
<path d="M1283.9 971.8l4.6 7.2l4.6 -7.2" stroke="#1a1a1a" stroke-width="1" fill="none"/>
<path d="M1293.1 971.8l4.6 7.2l4.6 -7.2" stroke="#1a1a1a" stroke-width="1" fill="none"/>
<path d="M1304.2 971.8l4.6 7.2l4.6 -7.2" stroke="#1a1a1a" stroke-width="1" fill="none"/>
<path d="M1342.9 969.8l4.6 7.2l4.6 -7.2" stroke="#1a1a1a" stroke-width="1" fill="none"/>
<path d="M1359.7 969.8l4.6 7.2l4.6 -7.2" stroke="#1a1a1a" stroke-width="1" fill="none"/>
<path d="M1368 969.8l4.6 7.2l4.6 -7.2" stroke="#1a1a1a" stroke-width="1" fill="none"/>
<path d="M1458.8 970.8l4.6 7.2l4.6 -7.2" stroke="#1a1a1a" stroke-width="1" fill="none"/>
<path d="M1471.3 967.8l4.6 7.2l4.6 -7.2" stroke="#1a1a1a" stroke-width="1" fill="none"/>
<path d="M1519.8 971.8l4.6 7.2l4.6 -7.2" stroke="#1a1a1a" stroke-width="1" fill="none"/>
<path d="M1531.6 971.8l4.6 7.2l4.6 -7.2" stroke="#1a1a1a" stroke-width="1" fill="none"/>
<path d="M1543.6 971.8l4.6 7.2l4.6 -7.2" stroke="#1a1a1a" stroke-width="1" fill="none"/>
<path d="M1574.1 971.8l4.6 7.2l4.6 -7.2" stroke="#1a1a1a" stroke-width="1" fill="none"/>
<path d="M1587.3 969.8l4.6 7.2l4.6 -7.2" stroke="#1a1a1a" stroke-width="1" fill="none"/>
<path d="M1640 971.8l4.6 7.2l4.6 -7.2" stroke="#1a1a1a" stroke-width="1" fill="none"/>
<path d="M1661.3 969.8l4.6 7.2l4.6 -7.2" stroke="#1a1a1a" stroke-width="1" fill="none"/>
<path d="M1689.9 971.8l4.6 7.2l4.6 -7.2" stroke="#1a1a1a" stroke-width="1" fill="none"/>
<path d="M1716 971.8l4.6 7.2l4.6 -7.2" stroke="#1a1a1a" stroke-width="1" fill="none"/>
<path d="M1816.8 971.8l4.6 7.2l4.6 -7.2" stroke="#1a1a1a" stroke-width="1" fill="none"/>
<path d="M1834.7 969.8l4.6 7.2l4.6 -7.2" stroke="#1a1a1a" stroke-width="1" fill="none"/>
<path d="M1895.7 965.8l4.6 7.2l4.6 -7.2" stroke="#1a1a1a" stroke-width="1" fill="none"/>
<path d="M1909.8 969.8l4.6 7.2l4.6 -7.2" stroke="#1a1a1a" stroke-width="1" fill="none"/>
<path d="M1966 970.8l4.6 7.2l4.6 -7.2" stroke="#1a1a1a" stroke-width="1" fill="none"/>
<path d="M2009.8 967.8l4.6 7.2l4.6 -7.2" stroke="#1a1a1a" stroke-width="1" fill="none"/>
<path d="M2036.4 968.8l4.6 7.2l4.6 -7.2" stroke="#1a1a1a" stroke-width="1" fill="none"/>
<path d="M2048.3 969.8l4.6 7.2l4.6 -7.2" stroke="#1a1a1a" stroke-width="1" fill="none"/>
<path d="M2061.6 967.8l4.6 7.2l4.6 -7.2" stroke="#1a1a1a" stroke-width="1" fill="none"/>
<path d="M2098 968.8l4.6 7.2l4.6 -7.2" stroke="#1a1a1a" stroke-width="1" fill="none"/>
<text class="ax" x="68.5" y="985" text-anchor="end">0</text>
<text class="ax" x="68.5" y="828.7" text-anchor="end">50,000</text>
<text class="ax" x="68.5" y="672.3" text-anchor="end">100,000</text>
<text class="ax" x="68.5" y="516" text-anchor="end">150,000</text>
<text class="ax" x="68.5" y="359.7" text-anchor="end">200,000</text>
<text class="ax" x="68.5" y="203.3" text-anchor="end">250,000</text>
<text class="ax" x="68.5" y="47" text-anchor="end">300,000</text>
<text class="ax" x="2137.5" y="985">0</text>
<text class="ax" x="2137.5" y="891.2">5,000</text>
<text class="ax" x="2137.5" y="797.4">10,000</text>
<text class="ax" x="2137.5" y="703.6">15,000</text>
<text class="ax" x="2137.5" y="609.8">20,000</text>
<text class="ax" x="2137.5" y="516">25,000</text>
<text class="ax" x="2137.5" y="422.2">30,000</text>
<text class="ax" x="2137.5" y="328.4">35,000</text>
<text class="ax" x="2137.5" y="234.6">40,000</text>
<text class="ax" x="2137.5" y="140.8">45,000</text>
<text class="ax" x="2137.5" y="47">50,000</text>
<text class="un" x="55.7" y="60.4">（人）</text>
<text class="un" x="2150.7" y="61.6">（人）</text>
<text class="xl" transform="translate(89 990) rotate(-90)" text-anchor="end">2020/1/16</text>
<text class="xl" transform="translate(110.3 990) rotate(-90)" text-anchor="end">1/26</text>
<text class="xl" transform="translate(131.5 990) rotate(-90)" text-anchor="end">2/5</text>
<text class="xl" transform="translate(152.8 990) rotate(-90)" text-anchor="end">2/15</text>
<text class="xl" transform="translate(174 990) rotate(-90)" text-anchor="end">2/25</text>
<text class="xl" transform="translate(195.3 990) rotate(-90)" text-anchor="end">3 /6</text>
<text class="xl" transform="translate(216.5 990) rotate(-90)" text-anchor="end">3 /16</text>
<text class="xl" transform="translate(237.8 990) rotate(-90)" text-anchor="end">3 /26</text>
<text class="xl" transform="translate(259 990) rotate(-90)" text-anchor="end">4/5</text>
<text class="xl" transform="translate(280.3 990) rotate(-90)" text-anchor="end">4/15</text>
<text class="xl" transform="translate(301.6 990) rotate(-90)" text-anchor="end">4/25</text>
<text class="xl" transform="translate(322.8 990) rotate(-90)" text-anchor="end">5/5</text>
<text class="xl" transform="translate(344.1 990) rotate(-90)" text-anchor="end">5/15</text>
<text class="xl" transform="translate(365.3 990) rotate(-90)" text-anchor="end">5/25</text>
<text class="xl" transform="translate(386.6 990) rotate(-90)" text-anchor="end">6/4</text>
<text class="xl" transform="translate(407.8 990) rotate(-90)" text-anchor="end">6/14</text>
<text class="xl" transform="translate(429.1 990) rotate(-90)" text-anchor="end">6/24</text>
<text class="xl" transform="translate(450.3 990) rotate(-90)" text-anchor="end">7/4</text>
<text class="xl" transform="translate(471.6 990) rotate(-90)" text-anchor="end">7/14</text>
<text class="xl" transform="translate(492.8 990) rotate(-90)" text-anchor="end">7/24</text>
<text class="xl" transform="translate(514.1 990) rotate(-90)" text-anchor="end">8/3</text>
<text class="xl" transform="translate(535.4 990) rotate(-90)" text-anchor="end">8/13</text>
<text class="xl" transform="translate(556.6 990) rotate(-90)" text-anchor="end">8/23</text>
<text class="xl" transform="translate(577.9 990) rotate(-90)" text-anchor="end">9/2</text>
<text class="xl" transform="translate(599.1 990) rotate(-90)" text-anchor="end">9/12</text>
<text class="xl" transform="translate(620.4 990) rotate(-90)" text-anchor="end">9/22</text>
<text class="xl" transform="translate(641.6 990) rotate(-90)" text-anchor="end">10/2</text>
<text class="xl" transform="translate(662.9 990) rotate(-90)" text-anchor="end">10/12</text>
<text class="xl" transform="translate(684.1 990) rotate(-90)" text-anchor="end">10/22</text>
<text class="xl" transform="translate(705.4 990) rotate(-90)" text-anchor="end">11/1</text>
<text class="xl" transform="translate(726.7 990) rotate(-90)" text-anchor="end">11/11</text>
<text class="xl" transform="translate(747.9 990) rotate(-90)" text-anchor="end">11/21</text>
<text class="xl" transform="translate(769.2 990) rotate(-90)" text-anchor="end">12/1</text>
<text class="xl" transform="translate(790.4 990) rotate(-90)" text-anchor="end">12/11</text>
<text class="xl" transform="translate(811.7 990) rotate(-90)" text-anchor="end">12/21</text>
<text class="xl" transform="translate(832.9 990) rotate(-90)" text-anchor="end">12/31</text>
<text class="xl" transform="translate(854.2 990) rotate(-90)" text-anchor="end">2021/1/10</text>
<text class="xl" transform="translate(875.4 990) rotate(-90)" text-anchor="end">1/20</text>
<text class="xl" transform="translate(896.7 990) rotate(-90)" text-anchor="end">1/30</text>
<text class="xl" transform="translate(918 990) rotate(-90)" text-anchor="end">2/9</text>
<text class="xl" transform="translate(939.2 990) rotate(-90)" text-anchor="end">2/19</text>
<text class="xl" transform="translate(960.5 990) rotate(-90)" text-anchor="end">3/1</text>
<text class="xl" transform="translate(981.7 990) rotate(-90)" text-anchor="end">3/11</text>
<text class="xl" transform="translate(1003 990) rotate(-90)" text-anchor="end">3/21</text>
<text class="xl" transform="translate(1024.2 990) rotate(-90)" text-anchor="end">3/31</text>
<text class="xl" transform="translate(1045.5 990) rotate(-90)" text-anchor="end">4/10</text>
<text class="xl" transform="translate(1066.7 990) rotate(-90)" text-anchor="end">4/20</text>
<text class="xl" transform="translate(1088 990) rotate(-90)" text-anchor="end">4/30</text>
<text class="xl" transform="translate(1109.2 990) rotate(-90)" text-anchor="end">5/10</text>
<text class="xl" transform="translate(1130.5 990) rotate(-90)" text-anchor="end">5/20</text>
<text class="xl" transform="translate(1151.8 990) rotate(-90)" text-anchor="end">5/30</text>
<text class="xl" transform="translate(1173 990) rotate(-90)" text-anchor="end">6/9</text>
<text class="xl" transform="translate(1194.3 990) rotate(-90)" text-anchor="end">6/19</text>
<text class="xl" transform="translate(1215.5 990) rotate(-90)" text-anchor="end">6/29</text>
<text class="xl" transform="translate(1236.8 990) rotate(-90)" text-anchor="end">7/9</text>
<text class="xl" transform="translate(1258 990) rotate(-90)" text-anchor="end">7/19</text>
<text class="xl" transform="translate(1279.3 990) rotate(-90)" text-anchor="end">7/29</text>
<text class="xl" transform="translate(1300.5 990) rotate(-90)" text-anchor="end">8/8</text>
<text class="xl" transform="translate(1321.8 990) rotate(-90)" text-anchor="end">8/18</text>
<text class="xl" transform="translate(1343.1 990) rotate(-90)" text-anchor="end">8/28</text>
<text class="xl" transform="translate(1364.3 990) rotate(-90)" text-anchor="end">9/7</text>
<text class="xl" transform="translate(1385.6 990) rotate(-90)" text-anchor="end">9/17</text>
<text class="xl" transform="translate(1406.8 990) rotate(-90)" text-anchor="end">9/27</text>
<text class="xl" transform="translate(1428.1 990) rotate(-90)" text-anchor="end">10/7</text>
<text class="xl" transform="translate(1449.3 990) rotate(-90)" text-anchor="end">10/17</text>
<text class="xl" transform="translate(1470.6 990) rotate(-90)" text-anchor="end">10/27</text>
<text class="xl" transform="translate(1491.8 990) rotate(-90)" text-anchor="end">11/6</text>
<text class="xl" transform="translate(1513.1 990) rotate(-90)" text-anchor="end">11/16</text>
<text class="xl" transform="translate(1534.4 990) rotate(-90)" text-anchor="end">11/26</text>
<text class="xl" transform="translate(1555.6 990) rotate(-90)" text-anchor="end">12/6</text>
<text class="xl" transform="translate(1576.9 990) rotate(-90)" text-anchor="end">12/16</text>
<text class="xl" transform="translate(1598.1 990) rotate(-90)" text-anchor="end">12/26</text>
<text class="xl" transform="translate(1619.4 990) rotate(-90)" text-anchor="end">2022/1/5</text>
<text class="xl" transform="translate(1640.6 990) rotate(-90)" text-anchor="end">1/15</text>
<text class="xl" transform="translate(1661.9 990) rotate(-90)" text-anchor="end">1/25</text>
<text class="xl" transform="translate(1683.1 990) rotate(-90)" text-anchor="end">2/4</text>
<text class="xl" transform="translate(1704.4 990) rotate(-90)" text-anchor="end">2/14</text>
<text class="xl" transform="translate(1725.7 990) rotate(-90)" text-anchor="end">2/24</text>
<text class="xl" transform="translate(1746.9 990) rotate(-90)" text-anchor="end">3/6</text>
<text class="xl" transform="translate(1768.2 990) rotate(-90)" text-anchor="end">3/16</text>
<text class="xl" transform="translate(1789.4 990) rotate(-90)" text-anchor="end">3/26</text>
<text class="xl" transform="translate(1810.7 990) rotate(-90)" text-anchor="end">4/5</text>
<text class="xl" transform="translate(1831.9 990) rotate(-90)" text-anchor="end">4/15</text>
<text class="xl" transform="translate(1853.2 990) rotate(-90)" text-anchor="end">4/25</text>
<text class="xl" transform="translate(1874.4 990) rotate(-90)" text-anchor="end">5/5</text>
<text class="xl" transform="translate(1895.7 990) rotate(-90)" text-anchor="end">5/15</text>
<text class="xl" transform="translate(1916.9 990) rotate(-90)" text-anchor="end">5/25</text>
<text class="xl" transform="translate(1938.2 990) rotate(-90)" text-anchor="end">6/4</text>
<text class="xl" transform="translate(1959.5 990) rotate(-90)" text-anchor="end">6/14</text>
<text class="xl" transform="translate(1980.7 990) rotate(-90)" text-anchor="end">6/24</text>
<text class="xl" transform="translate(2002 990) rotate(-90)" text-anchor="end">7/4</text>
<text class="xl" transform="translate(2023.2 990) rotate(-90)" text-anchor="end">7/14</text>
<text class="xl" transform="translate(2044.5 990) rotate(-90)" text-anchor="end">7/24</text>
<text class="xl" transform="translate(2065.7 990) rotate(-90)" text-anchor="end">8/3</text>
<text class="xl" transform="translate(2087 990) rotate(-90)" text-anchor="end">8/13</text>
<text class="xl" transform="translate(2108.2 990) rotate(-90)" text-anchor="end">8/23</text>
<text class="xl" transform="translate(2129.5 990) rotate(-90)" text-anchor="end">9/2</text>
<rect x="1778.5" y="59.5" width="331" height="69" fill="#fff" stroke="#000" stroke-width="1"/>
<rect x="1809" y="66.9" width="9.4" height="9.4" fill="#ffc000" stroke="#ed7d31" stroke-width="1.3"/>
<rect x="1809" y="89.6" width="9.4" height="9.4" fill="#f2f2f2" stroke="#000" stroke-width="1.6" stroke-dasharray="4.5 2.2"/>
<rect x="1809" y="112.3" width="9.4" height="9.4" fill="#70ad47" stroke="#00b050" stroke-width="1.3"/>
</svg>
<div class="lg" style="left:1822px;top:60.2px">新規陽性者数の推移（日別）：左軸</div>
<div class="lg" style="left:1822px;top:83px">死亡者数（累計）：右軸</div>
<div class="lg" style="left:1822px;top:105.6px">重症者数の推移：右軸</div>
<div class="h" style="left:313.3px;top:70.9px">緊急事態宣言</div>
<div class="h d" style="left:313px;top:93.5px">2020/4/7～5/31</div>
<div class="h" style="left:922.9px;top:72.9px">緊急事態宣言</div>
<div class="h d" style="left:922.6px;top:95.5px">2021/1/8～3/21</div>
<div class="h" style="left:1130.5px;top:76.7px">緊急事態宣言</div>
<div class="h d" style="left:1131.1px;top:99.3px">2021/4/25～6/20</div>
<div class="h" style="left:1325.9px;top:78px">緊急事態宣言</div>
<div class="h d" style="left:1325.8px;top:100.6px">2021/7/12～9/30</div>
<div class="h" style="left:1223.1px;top:162.1px">まん延防止等重点措置</div>
<div class="h d" style="left:1222.5px;top:176.6px">2021/4/5～9/30</div>
<div class="h" style="left:1698px;top:163.1px">まん延防止等重点措置</div>
<div class="h d" style="left:1698px;top:177.6px">2022/1/9～3/21</div>
<div class="h r" style="left:250.2px;top:149.8px">第1回調査</div>
<div class="h r d" style="left:250.2px;top:164.8px">（2020/4/3～4/4）</div>
<div class="h r" style="left:360px;top:150.3px">第2回調査</div>
<div class="h r d" style="left:360px;top:164.8px">（2020/5/15～5/16）</div>
<div class="h r" style="left:605px;top:148.9px">第3回調査</div>
<div class="h r d" style="left:605px;top:163.4px">（2020/9/16～9/18）</div>
<div class="h r" style="left:890px;top:151.5px">ライフデザインに関する調査</div>
<div class="h r d" style="left:890px;top:166px">（2021/1/29～2/3）</div>
<div class="h r" style="left:1385.4px;top:150.7px">第4回調査</div>
<div class="h r d" style="left:1385.4px;top:165.2px">（2021/9/17～9/19）</div>
<div class="h r" style="left:2126.7px;top:150.1px">第5回調査</div>
<div class="h r d" style="left:2126.7px;top:164.7px">（2022/9/2～9/3）</div>
<div class="v" id="v0" style="left:162.47px;top:247.01px;line-height:13.08px;letter-spacing:1.08px">全国の小中学校と高校、特別支援<br>学校に対し、臨時休校を要請</div>
<div class="v" id="v1" style="left:198.22px;top:245.61px;line-height:13.18px;letter-spacing:1.21px">ＷＨＯは新型コロナウイルスを<br>「パンデミック」だと宣言</div>
<div class="v" id="v2" style="left:264.41px;top:247.01px;line-height:13.08px;letter-spacing:1.02px">布マスクの全世帯配布を開始</div>
<div class="v" id="v3" style="left:306.61px;top:248.61px;line-height:13.08px;letter-spacing:1.09px">緊急事態宣言延長を発表</div>
<div class="v" id="v4" style="left:392.97px;top:248.61px;line-height:12.43px;letter-spacing:0.52px">接触確認アプリ（COCOA）<br>運用開始</div>
<div class="v" id="v5" style="left:561.01px;top:249.41px;line-height:13.08px;letter-spacing:0.94px">コロナ抗体調査開始</div>
<div class="v" id="v6" style="left:579.26px;top:248.41px;line-height:13.22px;letter-spacing:1.21px">コロナ高齢者など検査の<br>自治体に費用の最大半額<br>を助成を発表</div>
<div class="v" id="v7" style="left:621.11px;top:250.01px;line-height:12.99px;letter-spacing:0.94px">厚労省ワクチン接種自己<br>負担求めない方針固める</div>
<div class="v" id="v8" style="left:666.01px;top:250.80px;line-height:13.08px;letter-spacing:0.89px">ＷＨＯ 欧州のコロナ再拡大を懸念</div>
<div class="v" id="v9" style="left:651.61px;top:249.01px;line-height:13.08px;letter-spacing:1.04px">ヨーロッパで感染急拡大</div>
<div class="v" id="v10" style="left:694.22px;top:251.41px;line-height:13.18px;letter-spacing:1.02px">政府分科会が緊急提言「急速な感<br>染拡大の可能性も」</div>
<div class="v" id="v11" style="left:727.61px;top:250.41px;line-height:13.08px;letter-spacing:0.84px">国内感染者数が過去最多の2201人</div>
<div class="v" id="v12" style="left:742.51px;top:250.01px;line-height:12.99px;letter-spacing:1.08px">米ファイザーがワクチンの有効性<br>95％と発表</div>
<div class="v" id="v13" style="left:798.81px;top:249.80px;line-height:12.99px;letter-spacing:1.01px">都の医療提供体制最も高い警戒レ<br>ベルに初の引き上げ</div>
<div class="v" id="v14" style="left:771.01px;top:249.80px;line-height:12.99px;letter-spacing:1.00px">防衛省が医療体制ひっ迫の旭川市<br>に看護師など派遣決定</div>
<div class="v" id="v15" style="left:875.21px;top:245.61px;line-height:13.08px;letter-spacing:1.08px">感染者が全世界で１億人超え</div>
<div class="v" id="v16" style="left:919.11px;top:248.01px;line-height:13.08px;letter-spacing:1.15px">国内でワクチン接種が開始</div>
<div class="v" id="v17" style="left:1031.84px;top:244.61px;line-height:13.36px;letter-spacing:1.17px">６５歳以上高齢者対象にワク<br>チン接種が開始</div>
<div class="v" id="v18" style="left:1019.11px;top:244.61px;line-height:13.08px;letter-spacing:0.92px">インドで１日感染者20万人超</div>
<div class="v" id="v19" style="left:1134.71px;top:249.80px;line-height:12.99px;letter-spacing:0.99px">少なくともワクチンを１回接<br>種した人が１千万人を超え</div>
<div class="v" id="v20" style="left:1172.04px;top:249.01px;line-height:13.36px;letter-spacing:0.89px">大学や企業でのワクチン職域<br>接種が開始</div>
<div class="v" id="v21" style="left:1246.42px;top:243.01px;line-height:13.18px;letter-spacing:1.08px">「ワクチンパスポート」申請の<br>受け付け開始</div>
<div class="v" id="v22" style="left:1278.71px;top:247.01px;line-height:13.08px;letter-spacing:1.02px">感染者が全世界で２億人超え</div>
<div class="v" id="v23" style="left:1298.41px;top:249.01px;line-height:13.08px;letter-spacing:1.08px">自宅療養者２万人超え</div>
<div class="v" id="v24" style="left:1351.44px;top:250.80px;line-height:13.36px;letter-spacing:1.26px">ワクチンの２回目接種を終<br>えた人が国内５０％超え</div>
<div class="v" id="v25" style="left:1443.30px;top:250.61px;line-height:12.80px;letter-spacing:0.89px">ワクチン ２回目接種終えた人<br>が国内７０％超</div>
<div class="v" id="v26" style="left:1537.41px;top:250.61px;line-height:13.08px;letter-spacing:0.98px">ワクチン３回目接種開始</div>
<div class="v" id="v27" style="left:1580.41px;top:248.80px;line-height:13.08px;letter-spacing:1.02px">メルクの新型コロナ飲み薬承認</div>
<div class="v" id="v28" style="left:1552.25px;top:248.80px;line-height:13.55px;letter-spacing:1.02px">アプリでコロナワクチン接種証<br>明が開始</div>
<div class="v" id="v29" style="left:1656.11px;top:252.41px;line-height:13.08px;letter-spacing:0.99px">自宅療養者２６万人超え</div>
<div class="v" id="v30" style="left:1686.31px;top:249.61px;line-height:13.08px;letter-spacing:0.98px">ファイザーの新型コロナ飲み薬を承認</div>
<div class="v" id="v31" style="left:1808.91px;top:250.61px;line-height:13.08px;letter-spacing:0.97px">感染者が全世界で５億人超え</div>
<div class="v" id="v32" style="left:1829.91px;top:249.61px;line-height:13.08px;letter-spacing:1.08px">ノババックスのワクチンが承認</div>
<div class="v" id="v33" style="left:1906.71px;top:250.61px;line-height:13.08px;letter-spacing:0.98px">ワクチン４回目接種開始</div>
<div class="v" id="v34" style="left:1863.32px;top:251.61px;line-height:13.08px;letter-spacing:0.97px">屋外で周囲との距離を保ち、<br>会話を控えればマスク不要と<br>する見解を示す</div>
<div class="v" id="v35" style="left:2004.41px;top:251.61px;line-height:13.08px;letter-spacing:1.11px">新規感染者全ての年代で増加</div>
<div class="v" id="v36" style="left:2018.87px;top:250.61px;line-height:13.08px;letter-spacing:0.97px">ワクチン接種後死亡で初の死亡<br>一時金支給へ</div>
<div class="v" id="v37" style="left:2060.31px;top:253.20px;line-height:13.08px;letter-spacing:0.99px">自宅療養者数過去最多</div>
<div class="v" id="v38" style="left:2047.01px;top:252.20px;line-height:13.08px;letter-spacing:0.99px">ＷＨＯ日本の感染者世界最多発表</div>
<div class="v" id="v39" style="left:2094.01px;top:250.61px;line-height:13.08px;letter-spacing:0.97px">コロナ全数把握見直し方針表明</div>
<div class="v" id="v40" style="left:71.81px;top:475.40px;line-height:13.08px;letter-spacing:2.17px">国内<span style="font-size:9.5px">１</span>人目の感染者確認</div>
<div class="v" id="v41" style="left:133.21px;top:476.00px;line-height:13.08px;letter-spacing:1.54px">国内<span style="font-size:9.5px">１</span>人目の死亡者発表</div>
<div class="v" id="v42" style="left:257.21px;top:468.81px;line-height:13.08px;letter-spacing:0.97px">累計感染者数５千人超え</div>
<div class="v" id="v43" style="left:275.01px;top:468.81px;line-height:13.08px;letter-spacing:0.97px">累計感染者数１万人超え</div>
<div class="v" id="v44" style="left:327.21px;top:467.20px;line-height:13.08px;letter-spacing:1.07px">国内発の２０歳以下の死亡者発</div>
<div class="v" id="v45" style="left:441.41px;top:470.20px;line-height:13.08px;letter-spacing:1.05px">累計感染者数２万人超え</div>
<div class="v" id="v46" style="left:473.21px;top:470.20px;line-height:13.08px;letter-spacing:1.05px">累計感染者数３万人超え</div>
<div class="v" id="v47" style="left:494.71px;top:469.20px;line-height:13.08px;letter-spacing:1.05px">１日あたり感染者千人超え</div>
<div class="v" id="v48" style="left:525.01px;top:472.00px;line-height:13.08px;letter-spacing:0.93px">累計感染者数５万人超え</div>
<div class="v" id="v49" style="left:692.74px;top:471.00px;line-height:13.36px;letter-spacing:1.07px">１週間にクラスターが１００件超<br>前週の1.6倍９月以降最多</div>
<div class="v" id="v50" style="left:815.11px;top:474.00px;line-height:13.08px;letter-spacing:0.95px">累計死亡者３５００人超え</div>
<div class="v" id="v51" style="left:845.51px;top:474.00px;line-height:13.08px;letter-spacing:0.95px">累計感染者数３０万人超え</div>
<div class="v" id="v52" style="left:866.41px;top:474.00px;line-height:13.08px;letter-spacing:0.95px">累計死者数５０００人超え</div>
<div class="v" id="v53" style="left:974.11px;top:474.00px;line-height:13.08px;letter-spacing:0.96px">変異株で初の死亡者確認</div>
<div class="v" id="v54" style="left:1025.31px;top:477.00px;line-height:13.08px;letter-spacing:0.94px">累計感染者数５０万人超え</div>
<div class="v" id="v55" style="left:1077.01px;top:472.61px;line-height:13.08px;letter-spacing:0.89px">累計感染者数６０万人超え</div>
<div class="v" id="v56" style="left:1165.91px;top:471.20px;line-height:13.08px;letter-spacing:1.04px">インド株で初の死亡者確認</div>
<div class="v" id="v57" style="left:1288.41px;top:472.00px;line-height:13.08px;letter-spacing:0.97px">累計感染者数１００万人超え</div>
<div class="v" id="v58" style="left:1335.51px;top:471.20px;line-height:13.08px;letter-spacing:1.14px">ミュー株国内発確認</div>
<div class="v" id="v59" style="left:1355.01px;top:473.00px;line-height:13.08px;letter-spacing:1.18px">イータ株国内発確認</div>
<div class="v" id="v60" style="left:1466.41px;top:474.00px;line-height:13.08px;letter-spacing:0.92px">新規感染者数 今年最も少ない水準に</div>
<div class="v" id="v61" style="left:1525.71px;top:474.81px;line-height:13.08px;letter-spacing:1.07px">オミクロン株国内発確認</div>
<div class="v" id="v62" style="left:1499.72px;top:473.00px;line-height:13.18px;letter-spacing:1.04px">感染状況、２０２０年夏以降<br>最も低い水準</div>
<div class="v" id="v63" style="left:1634.71px;top:469.00px;line-height:13.08px;letter-spacing:0.92px">一日当たりの感染者数２万人超え</div>
<div class="v" id="v64" style="left:1710.01px;top:478.20px;line-height:13.08px;letter-spacing:0.99px">２０２２年に入り死者増加</div>
<div class="v" id="v65" style="left:1959.91px;top:470.61px;line-height:13.08px;letter-spacing:0.67px">変異ウイルス「BA.4」国内初確認</div>
<svg width="2210" height="1074" viewBox="0 0 2210 1074" style="pointer-events:none">
<path d="M256.2 968.8V181" stroke="#f00" stroke-width="2.6" stroke-dasharray="10.2 8.3" fill="none"/>
<path d="M251.5 970.3l4.7 8.6l4.7 -8.6" stroke="#f00" stroke-width="2.8" fill="none" stroke-linejoin="miter"/>
<path d="M346.3 968.8V181" stroke="#f00" stroke-width="2.6" stroke-dasharray="10.2 8.3" fill="none"/>
<path d="M341.6 967.6l4.7 8.6l4.7 -8.6" stroke="#f00" stroke-width="2.8" fill="none" stroke-linejoin="miter"/>
<path d="M602.9 967.4V179.7" stroke="#f00" stroke-width="2.6" stroke-dasharray="10.2 8.3" fill="none"/>
<path d="M598.2 967.6l4.7 8.6l4.7 -8.6" stroke="#f00" stroke-width="2.8" fill="none" stroke-linejoin="miter"/>
<path d="M890 970.6V183" stroke="#f00" stroke-width="2.6" stroke-dasharray="10.2 8.3" fill="none"/>
<path d="M885.3 971.8l4.7 8.6l4.7 -8.6" stroke="#f00" stroke-width="2.8" fill="none" stroke-linejoin="miter"/>
<path d="M1383.1 968.1V183" stroke="#f00" stroke-width="2.6" stroke-dasharray="10.2 8.3" fill="none"/>
<path d="M1378.4 969l4.7 8.6l4.7 -8.6" stroke="#f00" stroke-width="2.8" fill="none" stroke-linejoin="miter"/>
<path d="M2126.1 969.1V181.2" stroke="#f00" stroke-width="2.6" stroke-dasharray="10.2 8.3" fill="none"/>
<path d="M2121.4 970l4.7 8.6l4.7 -8.6" stroke="#f00" stroke-width="2.8" fill="none" stroke-linejoin="miter"/>
</svg>
</div></body></html>
